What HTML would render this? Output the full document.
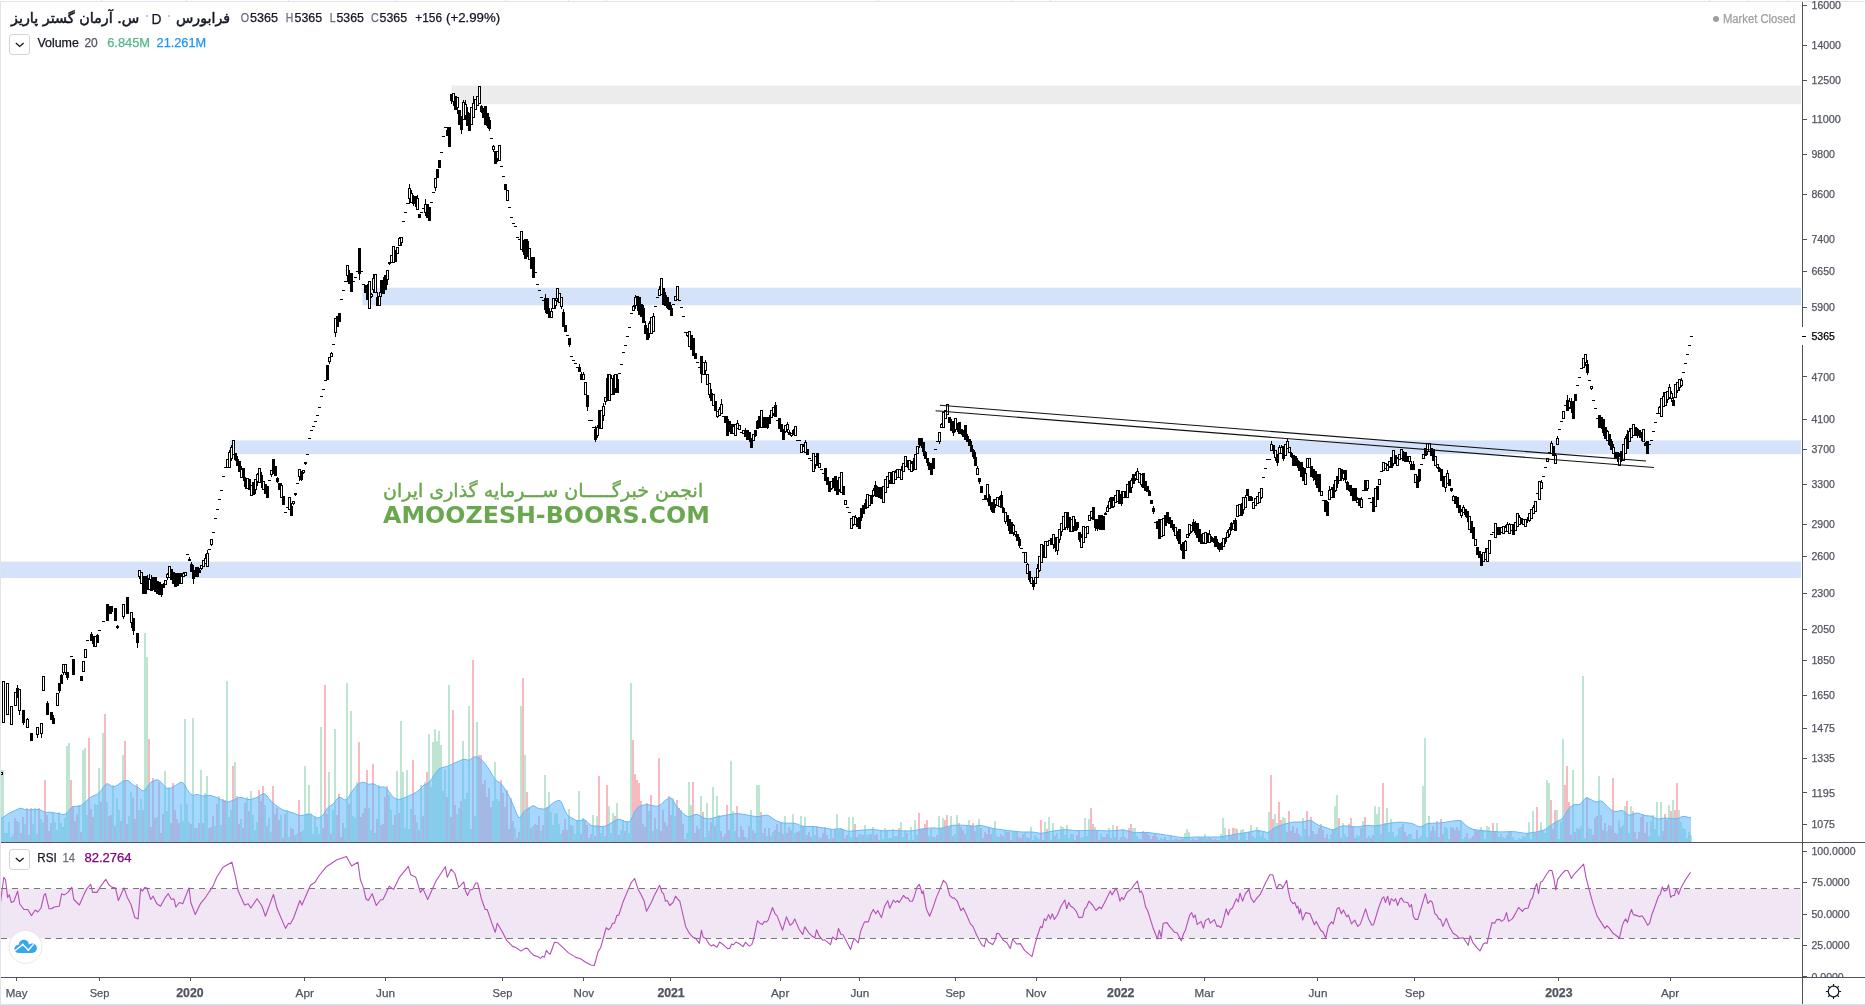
<!DOCTYPE html>
<html lang="en"><head><meta charset="utf-8"><title>Chart</title>
<style>
html,body{margin:0;padding:0;background:#fff;}
body{width:1865px;height:1005px;position:relative;overflow:hidden;font-family:"Liberation Sans","DejaVu Sans",sans-serif;color:#131722;}
.t{position:absolute;white-space:nowrap;line-height:1;will-change:transform;}
.box{position:absolute;width:19px;height:19px;border:1px solid #d1d4dc;border-radius:3px;background:#fff;box-sizing:content-box;}
.box svg{position:absolute;left:5px;top:7px}
.g{color:#6a6d78}
</style></head><body>
<svg width="1865" height="1005" viewBox="0 0 1865 1005" style="position:absolute;left:0;top:0;will-change:transform"><g shape-rendering="crispEdges"></g><g><rect x="451.5" y="85.6" width="1349.5" height="18.6" fill="#ececec"/><rect x="362.4" y="287.7" width="1438.6" height="17.6" fill="#d4e3f9"/><rect x="229.5" y="440.4" width="1571.5" height="13.8" fill="#d4e3f9"/><rect x="1" y="561.6" width="1800" height="16.4" fill="#d4e3f9"/><rect x="1" y="888.6" width="1800" height="49.8" fill="#f1e6f4"/></g><g shape-rendering="crispEdges"><path d="M0 770h2v72h-2zM2 770h2v72h-2zM4 833h2v9h-2zM6 833h2v9h-2zM8 822h2v20h-2zM10 837h2v5h-2zM12 834h2v8h-2zM18 822h2v20h-2zM24 824h2v18h-2zM28 835h2v7h-2zM32 824h2v18h-2zM34 808h2v34h-2zM36 834h2v8h-2zM40 819h2v23h-2zM42 822h2v20h-2zM52 813h2v29h-2zM54 822h2v20h-2zM56 830h2v12h-2zM58 812h2v30h-2zM60 823h2v19h-2zM62 827h2v15h-2zM64 818h2v24h-2zM66 746h2v96h-2zM68 743h2v99h-2zM78 805h2v37h-2zM82 750h2v92h-2zM84 748h2v94h-2zM86 815h2v27h-2zM94 804h2v38h-2zM96 805h2v37h-2zM98 768h2v74h-2zM102 733h2v109h-2zM106 802h2v40h-2zM112 785h2v57h-2zM116 798h2v44h-2zM118 810h2v32h-2zM122 755h2v87h-2zM128 816h2v26h-2zM130 792h2v50h-2zM138 810h2v32h-2zM140 799h2v43h-2zM144 633h2v209h-2zM146 657h2v185h-2zM156 817h2v25h-2zM164 771h2v71h-2zM166 811h2v31h-2zM168 787h2v55h-2zM180 804h2v38h-2zM182 821h2v21h-2zM184 719h2v123h-2zM186 804h2v38h-2zM188 822h2v20h-2zM192 718h2v124h-2zM196 828h2v14h-2zM200 770h2v72h-2zM204 793h2v49h-2zM206 776h2v66h-2zM214 826h2v16h-2zM218 796h2v46h-2zM220 825h2v17h-2zM226 681h2v161h-2zM228 817h2v25h-2zM230 810h2v32h-2zM234 762h2v80h-2zM240 819h2v23h-2zM246 797h2v45h-2zM250 791h2v51h-2zM252 815h2v27h-2zM254 830h2v12h-2zM256 822h2v20h-2zM264 805h2v37h-2zM268 818h2v24h-2zM270 832h2v10h-2zM280 815h2v27h-2zM286 810h2v32h-2zM288 837h2v5h-2zM296 834h2v8h-2zM302 830h2v12h-2zM304 766h2v76h-2zM306 813h2v29h-2zM308 785h2v57h-2zM310 813h2v29h-2zM312 834h2v8h-2zM314 816h2v26h-2zM316 827h2v15h-2zM318 834h2v8h-2zM320 727h2v115h-2zM328 772h2v70h-2zM332 810h2v32h-2zM334 729h2v113h-2zM344 828h2v14h-2zM346 683h2v159h-2zM350 711h2v131h-2zM352 816h2v26h-2zM354 818h2v24h-2zM356 782h2v60h-2zM368 808h2v34h-2zM370 830h2v12h-2zM374 833h2v9h-2zM378 785h2v57h-2zM388 795h2v47h-2zM390 810h2v32h-2zM392 825h2v17h-2zM396 771h2v71h-2zM400 721h2v121h-2zM402 772h2v70h-2zM404 828h2v14h-2zM406 770h2v72h-2zM408 829h2v13h-2zM410 809h2v33h-2zM416 822h2v20h-2zM420 785h2v57h-2zM424 782h2v60h-2zM428 734h2v108h-2zM430 787h2v55h-2zM432 742h2v100h-2zM434 729h2v113h-2zM436 741h2v101h-2zM438 731h2v111h-2zM440 745h2v97h-2zM442 791h2v51h-2zM444 770h2v72h-2zM448 685h2v157h-2zM456 814h2v28h-2zM458 808h2v34h-2zM462 741h2v101h-2zM464 799h2v43h-2zM466 793h2v49h-2zM468 706h2v136h-2zM470 829h2v13h-2zM474 816h2v26h-2zM476 722h2v120h-2zM492 801h2v41h-2zM494 762h2v80h-2zM496 799h2v43h-2zM498 801h2v41h-2zM514 828h2v14h-2zM520 706h2v136h-2zM524 755h2v87h-2zM528 807h2v35h-2zM532 826h2v16h-2zM540 831h2v11h-2zM544 775h2v67h-2zM548 792h2v50h-2zM550 812h2v30h-2zM552 825h2v17h-2zM554 814h2v28h-2zM556 813h2v29h-2zM558 824h2v18h-2zM560 834h2v8h-2zM568 809h2v33h-2zM572 826h2v16h-2zM574 834h2v8h-2zM576 820h2v22h-2zM578 791h2v51h-2zM582 818h2v24h-2zM588 838h2v4h-2zM592 815h2v27h-2zM596 816h2v26h-2zM600 833h2v9h-2zM602 826h2v16h-2zM604 836h2v6h-2zM608 806h2v36h-2zM610 833h2v9h-2zM612 813h2v29h-2zM616 803h2v39h-2zM620 830h2v12h-2zM622 820h2v22h-2zM626 822h2v20h-2zM628 833h2v9h-2zM630 683h2v159h-2zM648 811h2v31h-2zM652 831h2v11h-2zM656 829h2v13h-2zM672 798h2v44h-2zM674 816h2v26h-2zM686 833h2v9h-2zM688 782h2v60h-2zM690 805h2v37h-2zM700 796h2v46h-2zM704 837h2v5h-2zM706 803h2v39h-2zM708 831h2v11h-2zM712 787h2v55h-2zM716 796h2v46h-2zM718 815h2v27h-2zM722 837h2v5h-2zM730 761h2v81h-2zM732 811h2v31h-2zM734 831h2v11h-2zM738 837h2v5h-2zM746 838h2v4h-2zM750 810h2v32h-2zM756 785h2v57h-2zM758 785h2v57h-2zM762 833h2v9h-2zM766 836h2v6h-2zM770 836h2v6h-2zM772 832h2v10h-2zM778 832h2v10h-2zM784 816h2v26h-2zM792 814h2v28h-2zM794 833h2v9h-2zM800 816h2v26h-2zM804 817h2v25h-2zM812 826h2v16h-2zM814 835h2v7h-2zM818 837h2v5h-2zM830 829h2v13h-2zM836 814h2v28h-2zM838 830h2v12h-2zM840 828h2v14h-2zM848 817h2v25h-2zM850 837h2v5h-2zM852 817h2v25h-2zM858 834h2v8h-2zM860 834h2v8h-2zM864 825h2v17h-2zM866 835h2v7h-2zM868 834h2v8h-2zM872 827h2v15h-2zM880 830h2v12h-2zM882 839h2v3h-2zM884 828h2v14h-2zM886 831h2v11h-2zM888 838h2v4h-2zM892 829h2v13h-2zM894 836h2v6h-2zM896 836h2v6h-2zM900 822h2v20h-2zM902 837h2v5h-2zM904 830h2v12h-2zM908 840h2v2h-2zM910 827h2v15h-2zM914 820h2v22h-2zM916 835h2v7h-2zM928 836h2v6h-2zM930 829h2v13h-2zM934 837h2v5h-2zM938 816h2v26h-2zM942 818h2v24h-2zM950 816h2v26h-2zM954 834h2v8h-2zM956 815h2v27h-2zM966 826h2v16h-2zM968 820h2v22h-2zM976 825h2v17h-2zM978 819h2v23h-2zM992 828h2v14h-2zM994 821h2v21h-2zM996 836h2v6h-2zM998 837h2v5h-2zM1004 830h2v12h-2zM1012 831h2v11h-2zM1014 831h2v11h-2zM1024 832h2v10h-2zM1030 827h2v15h-2zM1034 835h2v7h-2zM1036 837h2v5h-2zM1038 839h2v3h-2zM1044 822h2v20h-2zM1048 817h2v25h-2zM1050 840h2v2h-2zM1052 823h2v19h-2zM1056 833h2v9h-2zM1060 826h2v16h-2zM1062 827h2v15h-2zM1064 835h2v7h-2zM1066 825h2v17h-2zM1068 838h2v4h-2zM1070 834h2v8h-2zM1072 834h2v8h-2zM1080 838h2v4h-2zM1082 837h2v5h-2zM1084 818h2v24h-2zM1086 836h2v6h-2zM1088 819h2v23h-2zM1094 827h2v15h-2zM1100 834h2v8h-2zM1108 828h2v14h-2zM1112 825h2v17h-2zM1114 837h2v5h-2zM1118 840h2v2h-2zM1122 829h2v13h-2zM1132 828h2v14h-2zM1134 828h2v14h-2zM1136 836h2v6h-2zM1140 839h2v3h-2zM1160 838h2v4h-2zM1162 839h2v3h-2zM1170 836h2v6h-2zM1174 839h2v3h-2zM1184 833h2v9h-2zM1186 829h2v13h-2zM1188 832h2v10h-2zM1190 840h2v2h-2zM1202 838h2v4h-2zM1204 834h2v8h-2zM1208 837h2v5h-2zM1220 834h2v8h-2zM1222 818h2v24h-2zM1224 828h2v14h-2zM1226 840h2v2h-2zM1230 835h2v7h-2zM1234 828h2v14h-2zM1238 840h2v2h-2zM1240 830h2v12h-2zM1242 829h2v13h-2zM1244 833h2v9h-2zM1250 825h2v17h-2zM1252 836h2v6h-2zM1254 838h2v4h-2zM1256 827h2v15h-2zM1258 830h2v12h-2zM1260 836h2v6h-2zM1262 831h2v11h-2zM1264 838h2v4h-2zM1266 840h2v2h-2zM1268 812h2v30h-2zM1274 814h2v28h-2zM1276 823h2v19h-2zM1282 817h2v25h-2zM1284 818h2v24h-2zM1300 836h2v6h-2zM1302 818h2v24h-2zM1304 829h2v13h-2zM1308 836h2v6h-2zM1314 834h2v8h-2zM1328 839h2v3h-2zM1330 834h2v8h-2zM1334 806h2v36h-2zM1336 795h2v47h-2zM1342 823h2v19h-2zM1344 834h2v8h-2zM1356 835h2v7h-2zM1358 836h2v6h-2zM1362 821h2v21h-2zM1368 836h2v6h-2zM1374 806h2v36h-2zM1376 814h2v28h-2zM1378 807h2v35h-2zM1380 834h2v8h-2zM1384 823h2v19h-2zM1386 808h2v34h-2zM1388 832h2v10h-2zM1390 819h2v23h-2zM1392 832h2v10h-2zM1394 837h2v5h-2zM1396 835h2v7h-2zM1398 828h2v14h-2zM1400 827h2v15h-2zM1408 834h2v8h-2zM1410 834h2v8h-2zM1412 839h2v3h-2zM1414 839h2v3h-2zM1418 838h2v4h-2zM1420 836h2v6h-2zM1422 786h2v56h-2zM1424 738h2v104h-2zM1426 837h2v5h-2zM1428 816h2v26h-2zM1434 831h2v11h-2zM1438 837h2v5h-2zM1444 827h2v15h-2zM1446 828h2v14h-2zM1448 839h2v3h-2zM1460 820h2v22h-2zM1462 839h2v3h-2zM1464 837h2v5h-2zM1468 839h2v3h-2zM1480 827h2v15h-2zM1482 830h2v12h-2zM1484 839h2v3h-2zM1486 826h2v16h-2zM1488 827h2v15h-2zM1490 831h2v11h-2zM1496 823h2v19h-2zM1500 834h2v8h-2zM1502 837h2v5h-2zM1504 838h2v4h-2zM1506 835h2v7h-2zM1510 831h2v11h-2zM1512 837h2v5h-2zM1514 840h2v2h-2zM1516 840h2v2h-2zM1518 838h2v4h-2zM1522 836h2v6h-2zM1524 837h2v5h-2zM1526 833h2v9h-2zM1528 822h2v20h-2zM1530 839h2v3h-2zM1532 811h2v31h-2zM1534 833h2v9h-2zM1538 831h2v11h-2zM1540 822h2v20h-2zM1542 831h2v11h-2zM1544 833h2v9h-2zM1546 780h2v62h-2zM1548 783h2v59h-2zM1556 810h2v32h-2zM1558 839h2v3h-2zM1560 822h2v20h-2zM1562 739h2v103h-2zM1572 770h2v72h-2zM1576 828h2v14h-2zM1580 826h2v16h-2zM1582 676h2v166h-2zM1584 838h2v4h-2zM1588 828h2v14h-2zM1590 829h2v13h-2zM1598 776h2v66h-2zM1606 831h2v11h-2zM1618 820h2v22h-2zM1622 825h2v17h-2zM1624 806h2v36h-2zM1628 833h2v9h-2zM1630 806h2v36h-2zM1648 836h2v6h-2zM1650 821h2v21h-2zM1652 815h2v27h-2zM1654 829h2v13h-2zM1656 802h2v40h-2zM1658 836h2v6h-2zM1660 802h2v40h-2zM1668 805h2v37h-2zM1672 800h2v42h-2zM1678 810h2v32h-2zM1680 822h2v20h-2zM1682 828h2v14h-2zM1684 829h2v13h-2zM1686 838h2v4h-2zM1688 832h2v10h-2zM1690 835h2v7h-2z" fill="#bde5d2"/><path d="M14 818h2v24h-2zM16 821h2v21h-2zM20 833h2v9h-2zM22 817h2v25h-2zM26 808h2v34h-2zM30 808h2v34h-2zM38 808h2v34h-2zM44 780h2v62h-2zM46 815h2v27h-2zM48 831h2v11h-2zM50 823h2v19h-2zM70 780h2v62h-2zM72 806h2v36h-2zM74 821h2v21h-2zM76 814h2v28h-2zM80 832h2v10h-2zM88 738h2v104h-2zM90 809h2v33h-2zM92 817h2v25h-2zM100 802h2v40h-2zM104 714h2v128h-2zM108 816h2v26h-2zM110 815h2v27h-2zM114 826h2v16h-2zM120 821h2v21h-2zM124 741h2v101h-2zM126 824h2v18h-2zM132 798h2v44h-2zM134 819h2v23h-2zM136 784h2v58h-2zM142 810h2v32h-2zM148 739h2v103h-2zM150 827h2v15h-2zM152 778h2v64h-2zM154 818h2v24h-2zM158 782h2v60h-2zM160 833h2v9h-2zM162 814h2v28h-2zM170 823h2v19h-2zM172 783h2v59h-2zM174 810h2v32h-2zM176 819h2v23h-2zM178 823h2v19h-2zM190 824h2v18h-2zM194 828h2v14h-2zM198 823h2v19h-2zM202 823h2v19h-2zM208 828h2v14h-2zM210 827h2v15h-2zM212 816h2v26h-2zM216 804h2v38h-2zM222 799h2v43h-2zM224 800h2v42h-2zM232 766h2v76h-2zM236 796h2v46h-2zM238 824h2v18h-2zM242 828h2v14h-2zM244 803h2v39h-2zM248 811h2v31h-2zM258 790h2v52h-2zM260 801h2v41h-2zM262 786h2v56h-2zM266 826h2v16h-2zM272 786h2v56h-2zM274 814h2v28h-2zM276 808h2v34h-2zM278 820h2v22h-2zM282 838h2v4h-2zM284 814h2v28h-2zM290 828h2v14h-2zM292 829h2v13h-2zM294 835h2v7h-2zM298 800h2v42h-2zM300 832h2v10h-2zM322 828h2v14h-2zM324 685h2v157h-2zM326 814h2v28h-2zM330 834h2v8h-2zM336 815h2v27h-2zM338 794h2v48h-2zM340 837h2v5h-2zM342 823h2v19h-2zM348 804h2v38h-2zM358 742h2v100h-2zM360 817h2v25h-2zM362 813h2v29h-2zM364 808h2v34h-2zM366 770h2v72h-2zM372 764h2v78h-2zM376 819h2v23h-2zM380 825h2v17h-2zM382 824h2v18h-2zM384 797h2v45h-2zM386 786h2v56h-2zM394 815h2v27h-2zM398 813h2v29h-2zM412 760h2v82h-2zM414 815h2v27h-2zM418 830h2v12h-2zM422 816h2v26h-2zM426 772h2v70h-2zM446 797h2v45h-2zM450 817h2v25h-2zM452 710h2v132h-2zM454 805h2v37h-2zM460 801h2v41h-2zM472 660h2v182h-2zM478 755h2v87h-2zM480 755h2v87h-2zM482 784h2v58h-2zM484 780h2v62h-2zM486 797h2v45h-2zM488 788h2v54h-2zM490 807h2v35h-2zM500 780h2v62h-2zM502 793h2v49h-2zM504 807h2v35h-2zM506 790h2v52h-2zM508 829h2v13h-2zM510 798h2v44h-2zM512 821h2v21h-2zM516 838h2v4h-2zM518 832h2v10h-2zM522 678h2v164h-2zM526 792h2v50h-2zM530 828h2v14h-2zM534 824h2v18h-2zM536 825h2v17h-2zM538 816h2v26h-2zM542 825h2v17h-2zM546 807h2v35h-2zM562 830h2v12h-2zM564 819h2v23h-2zM566 830h2v12h-2zM570 825h2v17h-2zM580 834h2v8h-2zM584 821h2v21h-2zM586 825h2v17h-2zM590 834h2v8h-2zM594 836h2v6h-2zM598 776h2v66h-2zM606 785h2v57h-2zM614 816h2v26h-2zM618 835h2v7h-2zM624 831h2v11h-2zM632 740h2v102h-2zM634 774h2v68h-2zM636 780h2v62h-2zM638 783h2v59h-2zM640 801h2v41h-2zM642 824h2v18h-2zM644 827h2v15h-2zM646 803h2v39h-2zM650 795h2v47h-2zM654 818h2v24h-2zM658 758h2v84h-2zM660 831h2v11h-2zM662 810h2v32h-2zM664 822h2v20h-2zM666 826h2v16h-2zM668 796h2v46h-2zM670 815h2v27h-2zM676 800h2v42h-2zM678 808h2v34h-2zM680 810h2v32h-2zM682 824h2v18h-2zM684 839h2v3h-2zM692 782h2v60h-2zM694 833h2v9h-2zM696 826h2v16h-2zM698 829h2v13h-2zM702 812h2v30h-2zM710 822h2v20h-2zM714 826h2v16h-2zM720 831h2v11h-2zM724 834h2v8h-2zM726 805h2v37h-2zM728 830h2v12h-2zM736 806h2v36h-2zM740 826h2v16h-2zM742 830h2v12h-2zM744 837h2v5h-2zM748 826h2v16h-2zM752 830h2v12h-2zM754 833h2v9h-2zM760 812h2v30h-2zM764 828h2v14h-2zM768 828h2v14h-2zM774 830h2v12h-2zM776 824h2v18h-2zM780 822h2v20h-2zM782 834h2v8h-2zM786 833h2v9h-2zM788 827h2v15h-2zM790 830h2v12h-2zM796 832h2v10h-2zM798 831h2v11h-2zM802 826h2v16h-2zM806 835h2v7h-2zM808 832h2v10h-2zM810 837h2v5h-2zM816 826h2v16h-2zM820 838h2v4h-2zM822 833h2v9h-2zM824 827h2v15h-2zM826 835h2v7h-2zM828 839h2v3h-2zM832 838h2v4h-2zM834 829h2v13h-2zM842 829h2v13h-2zM844 838h2v4h-2zM846 835h2v7h-2zM854 824h2v18h-2zM856 837h2v5h-2zM862 835h2v7h-2zM870 834h2v8h-2zM874 835h2v7h-2zM876 834h2v8h-2zM878 840h2v2h-2zM890 838h2v4h-2zM898 828h2v14h-2zM906 833h2v9h-2zM912 840h2v2h-2zM918 813h2v29h-2zM920 829h2v13h-2zM922 829h2v13h-2zM924 824h2v18h-2zM926 820h2v22h-2zM932 837h2v5h-2zM936 835h2v7h-2zM940 828h2v14h-2zM944 820h2v22h-2zM946 815h2v27h-2zM948 827h2v15h-2zM952 836h2v6h-2zM958 823h2v19h-2zM960 827h2v15h-2zM962 830h2v12h-2zM964 834h2v8h-2zM970 825h2v17h-2zM972 823h2v19h-2zM974 831h2v11h-2zM980 828h2v14h-2zM982 838h2v4h-2zM984 832h2v10h-2zM986 834h2v8h-2zM988 827h2v15h-2zM990 834h2v8h-2zM1000 834h2v8h-2zM1002 836h2v6h-2zM1006 832h2v10h-2zM1008 832h2v10h-2zM1010 840h2v2h-2zM1016 831h2v11h-2zM1018 837h2v5h-2zM1020 838h2v4h-2zM1022 834h2v8h-2zM1026 837h2v5h-2zM1028 838h2v4h-2zM1032 840h2v2h-2zM1040 820h2v22h-2zM1042 840h2v2h-2zM1046 829h2v13h-2zM1054 836h2v6h-2zM1058 839h2v3h-2zM1074 840h2v2h-2zM1076 835h2v7h-2zM1078 830h2v12h-2zM1090 808h2v34h-2zM1092 824h2v18h-2zM1096 830h2v12h-2zM1098 840h2v2h-2zM1102 837h2v5h-2zM1104 837h2v5h-2zM1106 834h2v8h-2zM1110 838h2v4h-2zM1116 826h2v16h-2zM1120 837h2v5h-2zM1124 837h2v5h-2zM1126 839h2v3h-2zM1128 828h2v14h-2zM1130 824h2v18h-2zM1138 839h2v3h-2zM1142 831h2v11h-2zM1144 832h2v10h-2zM1146 832h2v10h-2zM1148 835h2v7h-2zM1150 839h2v3h-2zM1152 836h2v6h-2zM1154 833h2v9h-2zM1156 837h2v5h-2zM1158 840h2v2h-2zM1164 837h2v5h-2zM1166 840h2v2h-2zM1168 840h2v2h-2zM1172 840h2v2h-2zM1176 839h2v3h-2zM1178 840h2v2h-2zM1180 839h2v3h-2zM1182 839h2v3h-2zM1192 839h2v3h-2zM1194 840h2v2h-2zM1196 840h2v2h-2zM1198 838h2v4h-2zM1200 838h2v4h-2zM1206 839h2v3h-2zM1210 838h2v4h-2zM1212 840h2v2h-2zM1214 839h2v3h-2zM1216 840h2v2h-2zM1218 840h2v2h-2zM1228 829h2v13h-2zM1232 828h2v14h-2zM1236 829h2v13h-2zM1246 840h2v2h-2zM1248 832h2v10h-2zM1270 775h2v67h-2zM1272 819h2v23h-2zM1278 802h2v40h-2zM1280 820h2v22h-2zM1286 832h2v10h-2zM1288 811h2v31h-2zM1290 831h2v11h-2zM1292 826h2v16h-2zM1294 833h2v9h-2zM1296 828h2v14h-2zM1298 834h2v8h-2zM1306 811h2v31h-2zM1310 817h2v25h-2zM1312 831h2v11h-2zM1316 834h2v8h-2zM1318 828h2v14h-2zM1320 824h2v18h-2zM1322 830h2v12h-2zM1324 838h2v4h-2zM1326 834h2v8h-2zM1332 830h2v12h-2zM1338 818h2v24h-2zM1340 838h2v4h-2zM1346 837h2v5h-2zM1348 824h2v18h-2zM1350 818h2v24h-2zM1352 827h2v15h-2zM1354 838h2v4h-2zM1360 828h2v14h-2zM1364 817h2v25h-2zM1366 838h2v4h-2zM1370 838h2v4h-2zM1372 835h2v7h-2zM1382 783h2v59h-2zM1402 824h2v18h-2zM1404 832h2v10h-2zM1406 836h2v6h-2zM1416 830h2v12h-2zM1430 831h2v11h-2zM1432 826h2v16h-2zM1436 821h2v21h-2zM1440 819h2v23h-2zM1442 834h2v8h-2zM1450 827h2v15h-2zM1452 828h2v14h-2zM1454 830h2v12h-2zM1456 827h2v15h-2zM1458 830h2v12h-2zM1466 833h2v9h-2zM1470 838h2v4h-2zM1472 836h2v6h-2zM1474 829h2v13h-2zM1476 831h2v11h-2zM1478 830h2v12h-2zM1492 823h2v19h-2zM1494 831h2v11h-2zM1498 837h2v5h-2zM1508 831h2v11h-2zM1520 839h2v3h-2zM1536 807h2v35h-2zM1550 800h2v42h-2zM1552 829h2v13h-2zM1554 810h2v32h-2zM1564 785h2v57h-2zM1566 766h2v76h-2zM1568 802h2v40h-2zM1570 835h2v7h-2zM1574 832h2v10h-2zM1578 829h2v13h-2zM1586 797h2v45h-2zM1592 835h2v7h-2zM1594 818h2v24h-2zM1596 816h2v26h-2zM1600 815h2v27h-2zM1602 830h2v12h-2zM1604 823h2v19h-2zM1608 825h2v17h-2zM1610 826h2v16h-2zM1612 778h2v64h-2zM1614 833h2v9h-2zM1616 834h2v8h-2zM1620 827h2v15h-2zM1626 801h2v41h-2zM1632 811h2v31h-2zM1634 832h2v10h-2zM1636 839h2v3h-2zM1638 832h2v10h-2zM1640 817h2v25h-2zM1642 814h2v28h-2zM1644 833h2v9h-2zM1646 822h2v20h-2zM1662 831h2v11h-2zM1664 814h2v28h-2zM1666 820h2v22h-2zM1670 811h2v31h-2zM1674 810h2v32h-2zM1676 783h2v59h-2z" fill="#f9b9bf"/></g><path d="M0 842L0.0 818.9L1.0 818.3L3.0 817.3L5.0 816.0L7.0 814.6L9.0 813.3L11.0 812.2L13.0 811.3L15.0 810.4L17.0 809.5L19.0 808.7L21.0 808.2L23.0 808.8L25.0 809.6L27.0 809.9L29.0 809.8L31.0 809.8L33.0 809.7L35.0 809.6L37.0 809.5L39.0 809.6L41.0 810.2L43.0 811.3L45.0 812.2L47.0 812.4L49.0 812.2L51.0 812.3L53.0 812.6L55.0 813.0L57.0 813.4L59.0 813.7L61.0 814.1L63.0 814.5L65.0 814.3L67.0 812.8L69.0 810.3L71.0 808.0L73.0 806.6L75.0 806.3L77.0 806.3L79.0 806.2L81.0 805.5L83.0 804.0L85.0 802.2L87.0 800.3L89.0 798.4L91.0 797.0L93.0 796.0L95.0 795.3L97.0 794.5L99.0 792.9L101.0 790.5L103.0 787.8L105.0 785.1L107.0 783.6L109.0 784.4L111.0 786.1L113.0 786.8L115.0 786.4L117.0 785.3L119.0 784.0L121.0 782.5L123.0 781.2L125.0 780.5L127.0 780.3L129.0 781.1L131.0 783.0L133.0 784.9L135.0 786.0L137.0 786.8L139.0 788.1L141.0 789.8L143.0 791.0L145.0 789.9L147.0 787.1L149.0 784.3L151.0 782.2L153.0 781.0L155.0 780.1L157.0 779.7L159.0 780.6L161.0 782.3L163.0 784.3L165.0 786.6L167.0 788.5L169.0 788.9L171.0 788.0L173.0 786.9L175.0 785.7L177.0 784.5L179.0 783.3L181.0 782.2L183.0 782.7L185.0 785.6L187.0 789.3L189.0 792.2L191.0 794.4L193.0 795.4L195.0 794.9L197.0 794.4L199.0 794.9L201.0 795.7L203.0 796.0L205.0 795.7L207.0 795.4L209.0 795.3L211.0 795.6L213.0 796.3L215.0 796.9L217.0 797.7L219.0 798.7L221.0 799.7L223.0 800.7L225.0 801.6L227.0 802.1L229.0 801.8L231.0 801.0L233.0 800.3L235.0 799.4L237.0 798.3L239.0 797.5L241.0 797.4L243.0 797.9L245.0 798.6L247.0 799.2L249.0 799.6L251.0 799.4L253.0 798.8L255.0 798.2L257.0 797.3L259.0 796.2L261.0 794.9L263.0 793.8L265.0 793.9L267.0 796.0L269.0 798.8L271.0 801.0L273.0 802.8L275.0 804.5L277.0 806.1L279.0 807.6L281.0 809.0L283.0 810.0L285.0 810.7L287.0 811.2L289.0 811.7L291.0 812.3L293.0 813.0L295.0 813.8L297.0 814.6L299.0 815.3L301.0 815.5L303.0 815.3L305.0 814.9L307.0 814.5L309.0 814.3L311.0 814.8L313.0 815.9L315.0 817.2L317.0 818.1L319.0 817.8L321.0 816.7L323.0 815.0L325.0 812.1L327.0 808.7L329.0 806.6L331.0 805.5L333.0 804.1L335.0 801.8L337.0 799.1L339.0 797.3L341.0 797.6L343.0 799.0L345.0 800.0L347.0 799.3L349.0 796.4L351.0 793.0L353.0 790.1L355.0 787.5L357.0 785.2L359.0 783.6L361.0 782.7L363.0 782.2L365.0 782.7L367.0 783.8L369.0 784.3L371.0 784.0L373.0 783.7L375.0 784.4L377.0 785.9L379.0 787.0L381.0 787.1L383.0 786.9L385.0 787.3L387.0 788.9L389.0 791.6L391.0 794.5L393.0 796.9L395.0 798.4L397.0 799.2L399.0 799.4L401.0 799.0L403.0 798.2L405.0 797.5L407.0 796.8L409.0 795.9L411.0 794.9L413.0 793.9L415.0 792.9L417.0 791.7L419.0 790.1L421.0 787.9L423.0 785.8L425.0 784.6L427.0 783.8L429.0 782.4L431.0 779.8L433.0 776.8L435.0 773.8L437.0 770.9L439.0 768.8L441.0 767.9L443.0 767.4L445.0 766.9L447.0 766.4L449.0 765.7L451.0 764.8L453.0 763.8L455.0 762.8L457.0 762.0L459.0 761.2L461.0 760.2L463.0 759.3L465.0 759.3L467.0 760.0L469.0 760.2L471.0 759.0L473.0 757.5L475.0 756.8L477.0 756.9L479.0 757.7L481.0 759.3L483.0 761.3L485.0 763.5L487.0 766.2L489.0 769.3L491.0 772.6L493.0 776.3L495.0 779.4L497.0 781.1L499.0 782.1L501.0 783.7L503.0 786.2L505.0 789.0L507.0 792.2L509.0 796.0L511.0 800.1L513.0 804.7L515.0 809.6L517.0 814.5L519.0 817.8L521.0 816.7L523.0 812.8L525.0 810.4L527.0 809.4L529.0 808.3L531.0 806.8L533.0 805.7L535.0 806.3L537.0 807.8L539.0 808.6L541.0 808.8L543.0 809.1L545.0 809.0L547.0 808.0L549.0 806.4L551.0 804.6L553.0 803.0L555.0 801.8L557.0 801.0L559.0 800.2L561.0 801.4L563.0 805.7L565.0 810.9L567.0 814.4L569.0 816.3L571.0 817.6L573.0 818.8L575.0 819.8L577.0 820.7L579.0 820.9L581.0 820.4L583.0 819.7L585.0 819.9L587.0 821.5L589.0 823.7L591.0 825.4L593.0 826.0L595.0 826.0L597.0 826.1L599.0 826.3L601.0 826.6L603.0 826.6L605.0 826.1L607.0 825.3L609.0 824.2L611.0 823.1L613.0 821.9L615.0 820.7L617.0 819.6L619.0 819.1L621.0 819.8L623.0 820.8L625.0 821.5L627.0 821.7L629.0 821.8L631.0 819.9L633.0 815.3L635.0 810.8L637.0 808.3L639.0 806.6L641.0 805.7L643.0 805.2L645.0 804.8L647.0 804.6L649.0 804.9L651.0 805.3L653.0 805.8L655.0 806.1L657.0 806.3L659.0 805.8L661.0 804.4L663.0 802.4L665.0 800.6L667.0 799.2L669.0 798.0L671.0 798.0L673.0 800.4L675.0 803.8L677.0 806.7L679.0 809.2L681.0 811.5L683.0 813.4L685.0 815.0L687.0 816.2L689.0 816.6L691.0 816.1L693.0 815.3L695.0 814.6L697.0 814.4L699.0 815.2L701.0 816.4L703.0 817.5L705.0 818.3L707.0 818.9L709.0 819.0L711.0 818.6L713.0 818.0L715.0 817.5L717.0 816.9L719.0 816.5L721.0 816.1L723.0 815.8L725.0 815.4L727.0 815.0L729.0 814.7L731.0 814.4L733.0 814.1L735.0 813.7L737.0 813.6L739.0 813.7L741.0 814.0L743.0 814.3L745.0 814.6L747.0 815.0L749.0 815.3L751.0 815.7L753.0 816.1L755.0 816.4L757.0 816.7L759.0 816.5L761.0 816.1L763.0 815.6L765.0 815.2L767.0 815.1L769.0 815.8L771.0 817.2L773.0 818.7L775.0 820.0L777.0 821.0L779.0 821.8L781.0 822.5L783.0 823.0L785.0 823.2L787.0 823.2L789.0 823.2L791.0 823.2L793.0 823.2L795.0 823.4L797.0 824.0L799.0 824.9L801.0 825.7L803.0 826.3L805.0 826.5L807.0 826.5L809.0 826.5L811.0 826.5L813.0 826.6L815.0 826.8L817.0 827.0L819.0 827.3L821.0 827.6L823.0 827.8L825.0 828.2L827.0 828.5L829.0 828.8L831.0 829.2L833.0 829.3L835.0 829.2L837.0 829.0L839.0 828.8L841.0 828.9L843.0 829.5L845.0 830.3L847.0 831.0L849.0 831.3L851.0 831.1L853.0 830.9L855.0 830.7L857.0 830.5L859.0 830.3L861.0 830.2L863.0 830.0L865.0 829.9L867.0 829.8L869.0 829.7L871.0 829.6L873.0 829.6L875.0 829.7L877.0 830.0L879.0 830.2L881.0 830.5L883.0 830.7L885.0 830.7L887.0 830.6L889.0 830.5L891.0 830.4L893.0 830.4L895.0 830.4L897.0 830.5L899.0 830.7L901.0 830.8L903.0 830.9L905.0 831.0L907.0 830.9L909.0 830.9L911.0 830.9L913.0 830.7L915.0 830.4L917.0 830.0L919.0 829.5L921.0 829.1L923.0 828.8L925.0 828.6L927.0 828.4L929.0 828.2L931.0 828.0L933.0 827.9L935.0 828.0L937.0 828.2L939.0 828.3L941.0 828.2L943.0 827.8L945.0 827.2L947.0 826.7L949.0 826.2L951.0 825.7L953.0 825.3L955.0 825.2L957.0 825.2L959.0 825.2L961.0 825.2L963.0 825.2L965.0 825.3L967.0 825.5L969.0 825.8L971.0 826.2L973.0 826.3L975.0 826.1L977.0 825.8L979.0 825.5L981.0 825.5L983.0 825.9L985.0 826.4L987.0 826.9L989.0 827.4L991.0 828.0L993.0 828.4L995.0 828.8L997.0 829.1L999.0 829.4L1001.0 829.6L1003.0 829.9L1005.0 830.2L1007.0 830.4L1009.0 830.7L1011.0 830.9L1013.0 831.1L1015.0 831.3L1017.0 831.6L1019.0 831.8L1021.0 831.9L1023.0 832.0L1025.0 832.0L1027.0 832.0L1029.0 832.0L1031.0 832.0L1033.0 832.1L1035.0 832.3L1037.0 832.7L1039.0 833.1L1041.0 833.3L1043.0 833.1L1045.0 832.7L1047.0 832.3L1049.0 831.9L1051.0 831.5L1053.0 831.1L1055.0 830.8L1057.0 830.6L1059.0 830.4L1061.0 830.1L1063.0 829.9L1065.0 829.7L1067.0 829.7L1069.0 829.9L1071.0 830.1L1073.0 830.4L1075.0 830.6L1077.0 830.7L1079.0 830.7L1081.0 830.6L1083.0 830.6L1085.0 830.5L1087.0 830.4L1089.0 830.4L1091.0 830.3L1093.0 830.4L1095.0 830.4L1097.0 830.5L1099.0 830.6L1101.0 830.7L1103.0 830.8L1105.0 830.8L1107.0 830.9L1109.0 830.9L1111.0 830.8L1113.0 830.7L1115.0 830.5L1117.0 830.4L1119.0 830.2L1121.0 830.0L1123.0 830.0L1125.0 830.2L1127.0 830.7L1129.0 831.3L1131.0 831.9L1133.0 832.4L1135.0 832.7L1137.0 832.7L1139.0 832.6L1141.0 832.5L1143.0 832.5L1145.0 832.4L1147.0 832.4L1149.0 832.6L1151.0 832.9L1153.0 833.1L1155.0 833.4L1157.0 833.7L1159.0 834.0L1161.0 834.3L1163.0 834.6L1165.0 834.9L1167.0 835.2L1169.0 835.5L1171.0 835.8L1173.0 836.2L1175.0 836.5L1177.0 836.9L1179.0 837.3L1181.0 837.6L1183.0 837.7L1185.0 837.6L1187.0 837.5L1189.0 837.4L1191.0 837.3L1193.0 837.2L1195.0 837.1L1197.0 837.0L1199.0 837.0L1201.0 837.0L1203.0 837.0L1205.0 837.0L1207.0 837.0L1209.0 837.0L1211.0 837.0L1213.0 837.0L1215.0 837.0L1217.0 837.0L1219.0 837.0L1221.0 836.8L1223.0 836.5L1225.0 836.1L1227.0 835.8L1229.0 835.4L1231.0 835.1L1233.0 834.7L1235.0 834.4L1237.0 834.1L1239.0 833.8L1241.0 833.4L1243.0 833.1L1245.0 832.8L1247.0 832.4L1249.0 832.0L1251.0 831.6L1253.0 831.2L1255.0 830.8L1257.0 830.6L1259.0 830.7L1261.0 831.0L1263.0 831.5L1265.0 831.9L1267.0 832.4L1269.0 832.1L1271.0 830.6L1273.0 828.8L1275.0 827.6L1277.0 826.8L1279.0 826.0L1281.0 825.3L1283.0 824.5L1285.0 824.0L1287.0 823.5L1289.0 823.0L1291.0 822.5L1293.0 822.1L1295.0 822.0L1297.0 822.0L1299.0 822.0L1301.0 822.0L1303.0 821.8L1305.0 821.3L1307.0 820.7L1309.0 820.3L1311.0 820.6L1313.0 821.7L1315.0 823.1L1317.0 824.3L1319.0 825.4L1321.0 826.1L1323.0 826.8L1325.0 827.4L1327.0 828.1L1329.0 828.8L1331.0 829.5L1333.0 829.8L1335.0 829.3L1337.0 828.2L1339.0 827.1L1341.0 826.3L1343.0 826.0L1345.0 826.0L1347.0 826.0L1349.0 826.1L1351.0 826.3L1353.0 826.5L1355.0 826.7L1357.0 826.8L1359.0 826.8L1361.0 826.4L1363.0 825.9L1365.0 825.5L1367.0 825.4L1369.0 825.5L1371.0 825.7L1373.0 825.9L1375.0 825.8L1377.0 825.6L1379.0 825.4L1381.0 825.1L1383.0 824.7L1385.0 824.2L1387.0 823.7L1389.0 823.4L1391.0 823.1L1393.0 822.8L1395.0 822.6L1397.0 822.4L1399.0 822.2L1401.0 822.2L1403.0 822.4L1405.0 822.6L1407.0 822.8L1409.0 823.1L1411.0 823.3L1413.0 823.8L1415.0 824.8L1417.0 825.9L1419.0 826.8L1421.0 826.9L1423.0 826.0L1425.0 824.7L1427.0 823.7L1429.0 823.4L1431.0 823.3L1433.0 823.2L1435.0 823.1L1437.0 823.0L1439.0 822.9L1441.0 822.8L1443.0 822.6L1445.0 822.4L1447.0 822.0L1449.0 821.7L1451.0 821.3L1453.0 821.0L1455.0 820.8L1457.0 820.6L1459.0 820.5L1461.0 821.0L1463.0 822.6L1465.0 824.5L1467.0 826.2L1469.0 827.5L1471.0 828.4L1473.0 829.2L1475.0 829.7L1477.0 830.0L1479.0 830.2L1481.0 830.4L1483.0 830.7L1485.0 830.9L1487.0 831.1L1489.0 831.2L1491.0 831.3L1493.0 831.5L1495.0 831.6L1497.0 831.7L1499.0 831.9L1501.0 831.9L1503.0 831.9L1505.0 831.8L1507.0 831.8L1509.0 831.7L1511.0 831.6L1513.0 831.6L1515.0 831.8L1517.0 832.0L1519.0 832.4L1521.0 832.7L1523.0 833.0L1525.0 833.3L1527.0 833.3L1529.0 833.1L1531.0 832.8L1533.0 832.5L1535.0 832.2L1537.0 831.8L1539.0 831.3L1541.0 830.8L1543.0 830.3L1545.0 829.5L1547.0 828.3L1549.0 826.7L1551.0 825.2L1553.0 823.8L1555.0 822.6L1557.0 821.4L1559.0 820.4L1561.0 819.6L1563.0 818.0L1565.0 814.7L1567.0 810.9L1569.0 808.3L1571.0 806.5L1573.0 805.3L1575.0 804.6L1577.0 804.6L1579.0 804.6L1581.0 803.4L1583.0 800.8L1585.0 798.5L1587.0 797.9L1589.0 798.7L1591.0 799.6L1593.0 800.7L1595.0 801.6L1597.0 802.0L1599.0 801.4L1601.0 800.9L1603.0 801.8L1605.0 803.9L1607.0 806.2L1609.0 808.2L1611.0 809.7L1613.0 810.9L1615.0 811.5L1617.0 811.4L1619.0 811.0L1621.0 810.5L1623.0 810.7L1625.0 812.2L1627.0 814.2L1629.0 815.2L1631.0 814.9L1633.0 814.1L1635.0 813.4L1637.0 813.0L1639.0 813.4L1641.0 814.2L1643.0 815.0L1645.0 815.6L1647.0 815.8L1649.0 815.9L1651.0 816.1L1653.0 816.7L1655.0 817.9L1657.0 818.9L1659.0 819.0L1661.0 818.6L1663.0 818.3L1665.0 818.0L1667.0 818.1L1669.0 818.3L1671.0 818.4L1673.0 818.6L1675.0 818.8L1677.0 818.7L1679.0 818.0L1681.0 817.0L1683.0 816.4L1685.0 816.6L1687.0 817.0L1689.0 817.5L1691.0 817.8L1691 842z" fill="rgba(92,184,255,0.55)"/><path d="M0.0 818.9L1.0 818.3L3.0 817.3L5.0 816.0L7.0 814.6L9.0 813.3L11.0 812.2L13.0 811.3L15.0 810.4L17.0 809.5L19.0 808.7L21.0 808.2L23.0 808.8L25.0 809.6L27.0 809.9L29.0 809.8L31.0 809.8L33.0 809.7L35.0 809.6L37.0 809.5L39.0 809.6L41.0 810.2L43.0 811.3L45.0 812.2L47.0 812.4L49.0 812.2L51.0 812.3L53.0 812.6L55.0 813.0L57.0 813.4L59.0 813.7L61.0 814.1L63.0 814.5L65.0 814.3L67.0 812.8L69.0 810.3L71.0 808.0L73.0 806.6L75.0 806.3L77.0 806.3L79.0 806.2L81.0 805.5L83.0 804.0L85.0 802.2L87.0 800.3L89.0 798.4L91.0 797.0L93.0 796.0L95.0 795.3L97.0 794.5L99.0 792.9L101.0 790.5L103.0 787.8L105.0 785.1L107.0 783.6L109.0 784.4L111.0 786.1L113.0 786.8L115.0 786.4L117.0 785.3L119.0 784.0L121.0 782.5L123.0 781.2L125.0 780.5L127.0 780.3L129.0 781.1L131.0 783.0L133.0 784.9L135.0 786.0L137.0 786.8L139.0 788.1L141.0 789.8L143.0 791.0L145.0 789.9L147.0 787.1L149.0 784.3L151.0 782.2L153.0 781.0L155.0 780.1L157.0 779.7L159.0 780.6L161.0 782.3L163.0 784.3L165.0 786.6L167.0 788.5L169.0 788.9L171.0 788.0L173.0 786.9L175.0 785.7L177.0 784.5L179.0 783.3L181.0 782.2L183.0 782.7L185.0 785.6L187.0 789.3L189.0 792.2L191.0 794.4L193.0 795.4L195.0 794.9L197.0 794.4L199.0 794.9L201.0 795.7L203.0 796.0L205.0 795.7L207.0 795.4L209.0 795.3L211.0 795.6L213.0 796.3L215.0 796.9L217.0 797.7L219.0 798.7L221.0 799.7L223.0 800.7L225.0 801.6L227.0 802.1L229.0 801.8L231.0 801.0L233.0 800.3L235.0 799.4L237.0 798.3L239.0 797.5L241.0 797.4L243.0 797.9L245.0 798.6L247.0 799.2L249.0 799.6L251.0 799.4L253.0 798.8L255.0 798.2L257.0 797.3L259.0 796.2L261.0 794.9L263.0 793.8L265.0 793.9L267.0 796.0L269.0 798.8L271.0 801.0L273.0 802.8L275.0 804.5L277.0 806.1L279.0 807.6L281.0 809.0L283.0 810.0L285.0 810.7L287.0 811.2L289.0 811.7L291.0 812.3L293.0 813.0L295.0 813.8L297.0 814.6L299.0 815.3L301.0 815.5L303.0 815.3L305.0 814.9L307.0 814.5L309.0 814.3L311.0 814.8L313.0 815.9L315.0 817.2L317.0 818.1L319.0 817.8L321.0 816.7L323.0 815.0L325.0 812.1L327.0 808.7L329.0 806.6L331.0 805.5L333.0 804.1L335.0 801.8L337.0 799.1L339.0 797.3L341.0 797.6L343.0 799.0L345.0 800.0L347.0 799.3L349.0 796.4L351.0 793.0L353.0 790.1L355.0 787.5L357.0 785.2L359.0 783.6L361.0 782.7L363.0 782.2L365.0 782.7L367.0 783.8L369.0 784.3L371.0 784.0L373.0 783.7L375.0 784.4L377.0 785.9L379.0 787.0L381.0 787.1L383.0 786.9L385.0 787.3L387.0 788.9L389.0 791.6L391.0 794.5L393.0 796.9L395.0 798.4L397.0 799.2L399.0 799.4L401.0 799.0L403.0 798.2L405.0 797.5L407.0 796.8L409.0 795.9L411.0 794.9L413.0 793.9L415.0 792.9L417.0 791.7L419.0 790.1L421.0 787.9L423.0 785.8L425.0 784.6L427.0 783.8L429.0 782.4L431.0 779.8L433.0 776.8L435.0 773.8L437.0 770.9L439.0 768.8L441.0 767.9L443.0 767.4L445.0 766.9L447.0 766.4L449.0 765.7L451.0 764.8L453.0 763.8L455.0 762.8L457.0 762.0L459.0 761.2L461.0 760.2L463.0 759.3L465.0 759.3L467.0 760.0L469.0 760.2L471.0 759.0L473.0 757.5L475.0 756.8L477.0 756.9L479.0 757.7L481.0 759.3L483.0 761.3L485.0 763.5L487.0 766.2L489.0 769.3L491.0 772.6L493.0 776.3L495.0 779.4L497.0 781.1L499.0 782.1L501.0 783.7L503.0 786.2L505.0 789.0L507.0 792.2L509.0 796.0L511.0 800.1L513.0 804.7L515.0 809.6L517.0 814.5L519.0 817.8L521.0 816.7L523.0 812.8L525.0 810.4L527.0 809.4L529.0 808.3L531.0 806.8L533.0 805.7L535.0 806.3L537.0 807.8L539.0 808.6L541.0 808.8L543.0 809.1L545.0 809.0L547.0 808.0L549.0 806.4L551.0 804.6L553.0 803.0L555.0 801.8L557.0 801.0L559.0 800.2L561.0 801.4L563.0 805.7L565.0 810.9L567.0 814.4L569.0 816.3L571.0 817.6L573.0 818.8L575.0 819.8L577.0 820.7L579.0 820.9L581.0 820.4L583.0 819.7L585.0 819.9L587.0 821.5L589.0 823.7L591.0 825.4L593.0 826.0L595.0 826.0L597.0 826.1L599.0 826.3L601.0 826.6L603.0 826.6L605.0 826.1L607.0 825.3L609.0 824.2L611.0 823.1L613.0 821.9L615.0 820.7L617.0 819.6L619.0 819.1L621.0 819.8L623.0 820.8L625.0 821.5L627.0 821.7L629.0 821.8L631.0 819.9L633.0 815.3L635.0 810.8L637.0 808.3L639.0 806.6L641.0 805.7L643.0 805.2L645.0 804.8L647.0 804.6L649.0 804.9L651.0 805.3L653.0 805.8L655.0 806.1L657.0 806.3L659.0 805.8L661.0 804.4L663.0 802.4L665.0 800.6L667.0 799.2L669.0 798.0L671.0 798.0L673.0 800.4L675.0 803.8L677.0 806.7L679.0 809.2L681.0 811.5L683.0 813.4L685.0 815.0L687.0 816.2L689.0 816.6L691.0 816.1L693.0 815.3L695.0 814.6L697.0 814.4L699.0 815.2L701.0 816.4L703.0 817.5L705.0 818.3L707.0 818.9L709.0 819.0L711.0 818.6L713.0 818.0L715.0 817.5L717.0 816.9L719.0 816.5L721.0 816.1L723.0 815.8L725.0 815.4L727.0 815.0L729.0 814.7L731.0 814.4L733.0 814.1L735.0 813.7L737.0 813.6L739.0 813.7L741.0 814.0L743.0 814.3L745.0 814.6L747.0 815.0L749.0 815.3L751.0 815.7L753.0 816.1L755.0 816.4L757.0 816.7L759.0 816.5L761.0 816.1L763.0 815.6L765.0 815.2L767.0 815.1L769.0 815.8L771.0 817.2L773.0 818.7L775.0 820.0L777.0 821.0L779.0 821.8L781.0 822.5L783.0 823.0L785.0 823.2L787.0 823.2L789.0 823.2L791.0 823.2L793.0 823.2L795.0 823.4L797.0 824.0L799.0 824.9L801.0 825.7L803.0 826.3L805.0 826.5L807.0 826.5L809.0 826.5L811.0 826.5L813.0 826.6L815.0 826.8L817.0 827.0L819.0 827.3L821.0 827.6L823.0 827.8L825.0 828.2L827.0 828.5L829.0 828.8L831.0 829.2L833.0 829.3L835.0 829.2L837.0 829.0L839.0 828.8L841.0 828.9L843.0 829.5L845.0 830.3L847.0 831.0L849.0 831.3L851.0 831.1L853.0 830.9L855.0 830.7L857.0 830.5L859.0 830.3L861.0 830.2L863.0 830.0L865.0 829.9L867.0 829.8L869.0 829.7L871.0 829.6L873.0 829.6L875.0 829.7L877.0 830.0L879.0 830.2L881.0 830.5L883.0 830.7L885.0 830.7L887.0 830.6L889.0 830.5L891.0 830.4L893.0 830.4L895.0 830.4L897.0 830.5L899.0 830.7L901.0 830.8L903.0 830.9L905.0 831.0L907.0 830.9L909.0 830.9L911.0 830.9L913.0 830.7L915.0 830.4L917.0 830.0L919.0 829.5L921.0 829.1L923.0 828.8L925.0 828.6L927.0 828.4L929.0 828.2L931.0 828.0L933.0 827.9L935.0 828.0L937.0 828.2L939.0 828.3L941.0 828.2L943.0 827.8L945.0 827.2L947.0 826.7L949.0 826.2L951.0 825.7L953.0 825.3L955.0 825.2L957.0 825.2L959.0 825.2L961.0 825.2L963.0 825.2L965.0 825.3L967.0 825.5L969.0 825.8L971.0 826.2L973.0 826.3L975.0 826.1L977.0 825.8L979.0 825.5L981.0 825.5L983.0 825.9L985.0 826.4L987.0 826.9L989.0 827.4L991.0 828.0L993.0 828.4L995.0 828.8L997.0 829.1L999.0 829.4L1001.0 829.6L1003.0 829.9L1005.0 830.2L1007.0 830.4L1009.0 830.7L1011.0 830.9L1013.0 831.1L1015.0 831.3L1017.0 831.6L1019.0 831.8L1021.0 831.9L1023.0 832.0L1025.0 832.0L1027.0 832.0L1029.0 832.0L1031.0 832.0L1033.0 832.1L1035.0 832.3L1037.0 832.7L1039.0 833.1L1041.0 833.3L1043.0 833.1L1045.0 832.7L1047.0 832.3L1049.0 831.9L1051.0 831.5L1053.0 831.1L1055.0 830.8L1057.0 830.6L1059.0 830.4L1061.0 830.1L1063.0 829.9L1065.0 829.7L1067.0 829.7L1069.0 829.9L1071.0 830.1L1073.0 830.4L1075.0 830.6L1077.0 830.7L1079.0 830.7L1081.0 830.6L1083.0 830.6L1085.0 830.5L1087.0 830.4L1089.0 830.4L1091.0 830.3L1093.0 830.4L1095.0 830.4L1097.0 830.5L1099.0 830.6L1101.0 830.7L1103.0 830.8L1105.0 830.8L1107.0 830.9L1109.0 830.9L1111.0 830.8L1113.0 830.7L1115.0 830.5L1117.0 830.4L1119.0 830.2L1121.0 830.0L1123.0 830.0L1125.0 830.2L1127.0 830.7L1129.0 831.3L1131.0 831.9L1133.0 832.4L1135.0 832.7L1137.0 832.7L1139.0 832.6L1141.0 832.5L1143.0 832.5L1145.0 832.4L1147.0 832.4L1149.0 832.6L1151.0 832.9L1153.0 833.1L1155.0 833.4L1157.0 833.7L1159.0 834.0L1161.0 834.3L1163.0 834.6L1165.0 834.9L1167.0 835.2L1169.0 835.5L1171.0 835.8L1173.0 836.2L1175.0 836.5L1177.0 836.9L1179.0 837.3L1181.0 837.6L1183.0 837.7L1185.0 837.6L1187.0 837.5L1189.0 837.4L1191.0 837.3L1193.0 837.2L1195.0 837.1L1197.0 837.0L1199.0 837.0L1201.0 837.0L1203.0 837.0L1205.0 837.0L1207.0 837.0L1209.0 837.0L1211.0 837.0L1213.0 837.0L1215.0 837.0L1217.0 837.0L1219.0 837.0L1221.0 836.8L1223.0 836.5L1225.0 836.1L1227.0 835.8L1229.0 835.4L1231.0 835.1L1233.0 834.7L1235.0 834.4L1237.0 834.1L1239.0 833.8L1241.0 833.4L1243.0 833.1L1245.0 832.8L1247.0 832.4L1249.0 832.0L1251.0 831.6L1253.0 831.2L1255.0 830.8L1257.0 830.6L1259.0 830.7L1261.0 831.0L1263.0 831.5L1265.0 831.9L1267.0 832.4L1269.0 832.1L1271.0 830.6L1273.0 828.8L1275.0 827.6L1277.0 826.8L1279.0 826.0L1281.0 825.3L1283.0 824.5L1285.0 824.0L1287.0 823.5L1289.0 823.0L1291.0 822.5L1293.0 822.1L1295.0 822.0L1297.0 822.0L1299.0 822.0L1301.0 822.0L1303.0 821.8L1305.0 821.3L1307.0 820.7L1309.0 820.3L1311.0 820.6L1313.0 821.7L1315.0 823.1L1317.0 824.3L1319.0 825.4L1321.0 826.1L1323.0 826.8L1325.0 827.4L1327.0 828.1L1329.0 828.8L1331.0 829.5L1333.0 829.8L1335.0 829.3L1337.0 828.2L1339.0 827.1L1341.0 826.3L1343.0 826.0L1345.0 826.0L1347.0 826.0L1349.0 826.1L1351.0 826.3L1353.0 826.5L1355.0 826.7L1357.0 826.8L1359.0 826.8L1361.0 826.4L1363.0 825.9L1365.0 825.5L1367.0 825.4L1369.0 825.5L1371.0 825.7L1373.0 825.9L1375.0 825.8L1377.0 825.6L1379.0 825.4L1381.0 825.1L1383.0 824.7L1385.0 824.2L1387.0 823.7L1389.0 823.4L1391.0 823.1L1393.0 822.8L1395.0 822.6L1397.0 822.4L1399.0 822.2L1401.0 822.2L1403.0 822.4L1405.0 822.6L1407.0 822.8L1409.0 823.1L1411.0 823.3L1413.0 823.8L1415.0 824.8L1417.0 825.9L1419.0 826.8L1421.0 826.9L1423.0 826.0L1425.0 824.7L1427.0 823.7L1429.0 823.4L1431.0 823.3L1433.0 823.2L1435.0 823.1L1437.0 823.0L1439.0 822.9L1441.0 822.8L1443.0 822.6L1445.0 822.4L1447.0 822.0L1449.0 821.7L1451.0 821.3L1453.0 821.0L1455.0 820.8L1457.0 820.6L1459.0 820.5L1461.0 821.0L1463.0 822.6L1465.0 824.5L1467.0 826.2L1469.0 827.5L1471.0 828.4L1473.0 829.2L1475.0 829.7L1477.0 830.0L1479.0 830.2L1481.0 830.4L1483.0 830.7L1485.0 830.9L1487.0 831.1L1489.0 831.2L1491.0 831.3L1493.0 831.5L1495.0 831.6L1497.0 831.7L1499.0 831.9L1501.0 831.9L1503.0 831.9L1505.0 831.8L1507.0 831.8L1509.0 831.7L1511.0 831.6L1513.0 831.6L1515.0 831.8L1517.0 832.0L1519.0 832.4L1521.0 832.7L1523.0 833.0L1525.0 833.3L1527.0 833.3L1529.0 833.1L1531.0 832.8L1533.0 832.5L1535.0 832.2L1537.0 831.8L1539.0 831.3L1541.0 830.8L1543.0 830.3L1545.0 829.5L1547.0 828.3L1549.0 826.7L1551.0 825.2L1553.0 823.8L1555.0 822.6L1557.0 821.4L1559.0 820.4L1561.0 819.6L1563.0 818.0L1565.0 814.7L1567.0 810.9L1569.0 808.3L1571.0 806.5L1573.0 805.3L1575.0 804.6L1577.0 804.6L1579.0 804.6L1581.0 803.4L1583.0 800.8L1585.0 798.5L1587.0 797.9L1589.0 798.7L1591.0 799.6L1593.0 800.7L1595.0 801.6L1597.0 802.0L1599.0 801.4L1601.0 800.9L1603.0 801.8L1605.0 803.9L1607.0 806.2L1609.0 808.2L1611.0 809.7L1613.0 810.9L1615.0 811.5L1617.0 811.4L1619.0 811.0L1621.0 810.5L1623.0 810.7L1625.0 812.2L1627.0 814.2L1629.0 815.2L1631.0 814.9L1633.0 814.1L1635.0 813.4L1637.0 813.0L1639.0 813.4L1641.0 814.2L1643.0 815.0L1645.0 815.6L1647.0 815.8L1649.0 815.9L1651.0 816.1L1653.0 816.7L1655.0 817.9L1657.0 818.9L1659.0 819.0L1661.0 818.6L1663.0 818.3L1665.0 818.0L1667.0 818.1L1669.0 818.3L1671.0 818.4L1673.0 818.6L1675.0 818.8L1677.0 818.7L1679.0 818.0L1681.0 817.0L1683.0 816.4L1685.0 816.6L1687.0 817.0L1689.0 817.5L1691.0 817.8" fill="none" stroke="#68b9f5" stroke-width="1" stroke-linejoin="round"/><g shape-rendering="crispEdges"><path d="M2 681h3v42h-3zM6 683h3v32h-3zM10 706h3v19h-3zM14 692h3v14h-3zM17 685h1v13h-1zM16 688h3v10h-3zM19 689h1v26h-1zM18 689h3v22h-3zM23 710h1v15h-1zM22 710h3v13h-3zM27 718h1v10h-1zM26 719h3v9h-3zM30 733h3v8h-3zM37 727h1v11h-1zM36 727h3v8h-3zM41 723h1v15h-1zM40 723h3v11h-3zM42 676h3v15h-3zM47 701h1v14h-1zM46 703h3v12h-3zM50 712h3v8h-3zM53 715h1v9h-1zM52 718h3v6h-3zM56 693h3v13h-3zM59 683h1v10h-1zM58 683h3v8h-3zM61 674h1v10h-1zM60 675h3v9h-3zM63 664h1v11h-1zM62 664h3v9h-3zM65 664h1v11h-1zM64 664h3v9h-3zM67 672h1v8h-1zM66 672h3v6h-3zM70 656h3v1h-3zM72 659h3v16h-3zM80 676h3v5h-3zM82 661h3v11h-3zM84 649h3v9h-3zM86 640h3v1h-3zM91 632h1v9h-1zM90 634h3v7h-3zM93 636h1v11h-1zM92 636h3v8h-3zM94 636h3v11h-3zM97 634h1v9h-1zM96 635h3v8h-3zM98 630h3v1h-3zM102 621h3v1h-3zM106 604h3v17h-3zM108 606h3v8h-3zM111 606h1v8h-1zM110 606h3v6h-3zM114 608h3v13h-3zM117 625h1v4h-1zM116 626h3v2h-3zM123 604h1v15h-1zM122 604h3v13h-3zM126 597h3v17h-3zM131 612h1v16h-1zM130 612h3v11h-3zM133 618h1v17h-1zM132 618h3v13h-3zM137 633h1v15h-1zM136 633h3v10h-3zM139 570h1v9h-1zM138 570h3v7h-3zM140 572h3v12h-3zM142 576h3v18h-3zM144 576h3v18h-3zM147 575h1v15h-1zM146 578h3v10h-3zM149 574h1v16h-1zM148 579h3v11h-3zM151 575h1v16h-1zM150 580h3v11h-3zM153 577h1v13h-1zM152 577h3v9h-3zM154 577h3v15h-3zM156 581h3v13h-3zM158 582h3v13h-3zM161 584h1v13h-1zM160 584h3v11h-3zM163 583h1v5h-1zM162 584h3v4h-3zM164 580h3v5h-3zM167 573h1v7h-1zM166 574h3v4h-3zM168 566h3v12h-3zM170 569h3v11h-3zM172 572h3v12h-3zM174 573h3v14h-3zM177 573h1v13h-1zM176 576h3v10h-3zM178 573h3v11h-3zM181 573h1v11h-1zM180 576h3v8h-3zM183 572h1v5h-1zM182 573h3v4h-3zM184 572h3v4h-3zM186 554h3v1h-3zM189 557h1v4h-1zM188 559h3v2h-3zM191 562h1v10h-1zM190 564h3v8h-3zM193 565h1v19h-1zM192 570h3v9h-3zM195 567h1v10h-1zM194 570h3v7h-3zM196 567h3v10h-3zM199 568h1v5h-1zM198 570h3v3h-3zM201 565h1v5h-1zM200 565h3v4h-3zM202 560h3v7h-3zM205 554h1v10h-1zM204 558h3v6h-3zM207 550h1v17h-1zM206 553h3v14h-3zM208 549h3v1h-3zM211 539h1v7h-1zM210 539h3v6h-3zM212 532h3v1h-3zM214 518h3v1h-3zM216 509h3v1h-3zM218 499h3v1h-3zM220 490h3v1h-3zM222 476h3v1h-3zM224 467h3v1h-3zM226 459h3v9h-3zM229 450h1v18h-1zM228 452h3v16h-3zM231 445h1v16h-1zM230 447h3v12h-3zM232 440h3v15h-3zM235 453h1v8h-1zM234 453h3v7h-3zM237 456h1v10h-1zM236 459h3v7h-3zM238 461h3v11h-3zM241 466h1v12h-1zM240 469h3v9h-3zM243 468h1v13h-1zM242 468h3v10h-3zM245 477h1v12h-1zM244 478h3v9h-3zM246 478h3v11h-3zM248 479h3v11h-3zM250 485h3v11h-3zM252 482h3v13h-3zM255 479h1v15h-1zM254 479h3v11h-3zM257 473h1v13h-1zM256 474h3v8h-3zM258 468h3v15h-3zM261 472h1v16h-1zM260 475h3v8h-3zM262 481h3v9h-3zM264 484h3v10h-3zM266 486h3v12h-3zM268 480h3v1h-3zM271 470h1v7h-1zM270 470h3v5h-3zM272 459h3v15h-3zM274 466h3v10h-3zM277 477h1v6h-1zM276 478h3v4h-3zM278 483h3v7h-3zM281 483h1v15h-1zM280 485h3v13h-3zM282 496h3v9h-3zM284 512h3v1h-3zM286 507h3v1h-3zM288 497h3v13h-3zM291 503h1v13h-1zM290 506h3v10h-3zM293 501h1v4h-1zM292 501h3v3h-3zM295 493h1v3h-1zM294 493h3v2h-3zM296 483h3v1h-3zM299 469h1v12h-1zM298 469h3v8h-3zM301 471h1v10h-1zM300 471h3v9h-3zM303 470h1v4h-1zM302 470h3v3h-3zM305 462h1v3h-1zM304 462h3v2h-3zM306 454h3v1h-3zM308 438h3v1h-3zM310 430h3v1h-3zM312 426h3v1h-3zM314 421h3v1h-3zM316 415h3v1h-3zM318 407h3v1h-3zM320 396h3v1h-3zM322 389h3v1h-3zM324 380h3v1h-3zM326 365h3v15h-3zM329 357h1v7h-1zM328 357h3v5h-3zM331 352h1v5h-1zM330 353h3v4h-3zM332 344h3v1h-3zM335 318h1v19h-1zM334 318h3v15h-3zM336 316h3v11h-3zM338 313h3v9h-3zM340 299h3v1h-3zM342 290h3v1h-3zM344 281h3v1h-3zM347 265h1v17h-1zM346 265h3v11h-3zM349 270h1v14h-1zM348 274h3v10h-3zM350 273h3v19h-3zM352 281h3v1h-3zM354 277h3v1h-3zM356 271h3v1h-3zM359 248h1v32h-1zM358 248h3v26h-3zM360 271h3v1h-3zM362 284h3v1h-3zM364 285h3v8h-3zM367 284h1v16h-1zM366 287h3v13h-3zM368 281h3v28h-3zM371 293h1v5h-1zM370 294h3v3h-3zM373 274h1v19h-1zM372 278h3v12h-3zM374 274h3v19h-3zM377 292h1v14h-1zM376 297h3v9h-3zM379 292h1v14h-1zM378 296h3v10h-3zM381 280h1v17h-1zM380 280h3v13h-3zM383 277h1v17h-1zM382 281h3v13h-3zM384 275h3v15h-3zM387 270h1v15h-1zM386 270h3v10h-3zM389 262h1v3h-1zM388 262h3v2h-3zM390 255h3v8h-3zM392 246h3v17h-3zM394 250h3v12h-3zM396 247h3v7h-3zM399 237h1v9h-1zM398 238h3v8h-3zM401 237h1v9h-1zM400 237h3v6h-3zM402 221h3v1h-3zM404 212h3v1h-3zM406 203h3v1h-3zM409 184h1v20h-1zM408 188h3v11h-3zM411 190h1v13h-1zM410 193h3v10h-3zM413 195h1v11h-1zM412 196h3v8h-3zM415 196h1v11h-1zM414 196h3v7h-3zM417 195h1v15h-1zM416 198h3v12h-3zM418 214h3v4h-3zM420 212h3v1h-3zM422 208h3v1h-3zM425 199h1v17h-1zM424 204h3v9h-3zM426 204h3v14h-3zM428 207h3v14h-3zM430 202h3v1h-3zM432 192h3v1h-3zM435 178h1v13h-1zM434 178h3v10h-3zM436 169h3v9h-3zM438 160h3v8h-3zM440 152h3v1h-3zM442 136h3v1h-3zM444 127h3v1h-3zM447 127h1v9h-1zM446 130h3v6h-3zM448 127h3v20h-3zM451 94h1v10h-1zM450 94h3v7h-3zM453 93h1v13h-1zM452 93h3v9h-3zM454 96h3v14h-3zM457 97h1v17h-1zM456 97h3v11h-3zM458 110h3v15h-3zM461 116h1v18h-1zM460 116h3v14h-3zM463 100h1v20h-1zM462 102h3v18h-3zM465 100h1v20h-1zM464 104h3v12h-3zM467 107h1v19h-1zM466 112h3v14h-3zM469 113h1v18h-1zM468 117h3v14h-3zM470 107h3v18h-3zM473 96h1v22h-1zM472 103h3v15h-3zM474 99h3v11h-3zM476 96h3v10h-3zM478 86h3v18h-3zM481 105h1v8h-1zM480 106h3v6h-3zM483 108h1v10h-1zM482 109h3v9h-3zM484 106h3v19h-3zM487 113h1v15h-1zM486 113h3v13h-3zM489 117h1v14h-1zM488 120h3v9h-3zM490 138h3v1h-3zM493 145h1v7h-1zM492 146h3v4h-3zM494 151h3v13h-3zM497 151h1v11h-1zM496 151h3v8h-3zM498 145h3v16h-3zM500 166h3v1h-3zM502 176h3v1h-3zM504 184h3v6h-3zM506 190h3v11h-3zM508 207h3v1h-3zM510 217h3v1h-3zM512 223h3v1h-3zM514 226h3v1h-3zM516 237h3v1h-3zM518 239h3v1h-3zM520 231h3v19h-3zM523 240h1v15h-1zM522 242h3v10h-3zM524 239h3v20h-3zM527 239h1v18h-1zM526 241h3v13h-3zM528 248h3v12h-3zM530 257h3v12h-3zM532 257h3v21h-3zM534 272h3v1h-3zM536 284h3v1h-3zM538 290h3v1h-3zM540 297h3v1h-3zM542 300h3v1h-3zM545 294h1v19h-1zM544 298h3v12h-3zM546 298h3v16h-3zM549 308h1v10h-1zM548 311h3v7h-3zM551 308h1v10h-1zM550 311h3v7h-3zM552 298h3v11h-3zM555 298h1v11h-1zM554 300h3v6h-3zM557 288h1v14h-1zM556 288h3v11h-3zM558 293h3v10h-3zM561 297h1v12h-1zM560 297h3v10h-3zM563 309h1v18h-1zM562 312h3v15h-3zM564 325h3v7h-3zM566 335h3v1h-3zM569 338h1v9h-1zM568 338h3v7h-3zM570 356h3v1h-3zM572 360h3v1h-3zM574 363h3v1h-3zM576 367h3v1h-3zM579 364h1v8h-1zM578 367h3v5h-3zM581 372h1v8h-1zM580 374h3v6h-3zM583 372h1v8h-1zM582 374h3v6h-3zM584 382h3v13h-3zM587 395h1v16h-1zM586 395h3v12h-3zM588 420h3v1h-3zM590 420h3v1h-3zM592 427h3v1h-3zM595 426h1v16h-1zM594 429h3v11h-3zM597 425h1v13h-1zM596 427h3v9h-3zM598 410h3v19h-3zM600 410h3v19h-3zM603 403h1v18h-1zM602 406h3v10h-3zM605 397h1v8h-1zM604 397h3v5h-3zM607 374h1v27h-1zM606 378h3v23h-3zM608 374h3v27h-3zM611 375h1v20h-1zM610 378h3v17h-3zM613 375h1v20h-1zM612 378h3v17h-3zM615 374h1v19h-1zM614 374h3v15h-3zM617 374h1v19h-1zM616 379h3v14h-3zM618 373h3v1h-3zM620 364h3v1h-3zM622 352h3v1h-3zM624 345h3v1h-3zM626 336h3v1h-3zM628 327h3v1h-3zM630 313h3v1h-3zM633 305h1v6h-1zM632 306h3v5h-3zM635 295h1v14h-1zM634 297h3v9h-3zM637 296h1v15h-1zM636 296h3v10h-3zM638 297h3v18h-3zM640 304h3v13h-3zM643 305h1v18h-1zM642 308h3v15h-3zM645 321h1v13h-1zM644 325h3v9h-3zM647 328h1v12h-1zM646 330h3v10h-3zM649 321h1v17h-1zM648 323h3v11h-3zM650 317h3v17h-3zM653 313h1v19h-1zM652 316h3v16h-3zM654 306h3v1h-3zM656 297h3v1h-3zM659 286h1v10h-1zM658 289h3v7h-3zM660 278h3v17h-3zM662 288h3v17h-3zM665 292h1v14h-1zM664 295h3v11h-3zM667 297h1v12h-1zM666 297h3v11h-3zM668 302h3v8h-3zM671 305h1v11h-1zM670 308h3v8h-3zM672 304h3v1h-3zM674 296h3v5h-3zM676 286h3v14h-3zM678 300h3v1h-3zM680 307h3v1h-3zM682 316h3v1h-3zM684 332h3v1h-3zM687 332h1v5h-1zM686 332h3v4h-3zM688 331h3v16h-3zM690 335h3v15h-3zM692 338h3v18h-3zM694 353h3v6h-3zM696 362h3v1h-3zM698 367h3v1h-3zM701 356h1v27h-1zM700 356h3v18h-3zM702 362h3v13h-3zM705 360h1v15h-1zM704 362h3v9h-3zM706 374h3v11h-3zM709 383h1v15h-1zM708 383h3v12h-3zM711 389h1v12h-1zM710 393h3v8h-3zM712 394h3v12h-3zM714 401h3v10h-3zM717 411h1v7h-1zM716 411h3v6h-3zM719 407h1v9h-1zM718 409h3v7h-3zM721 399h1v15h-1zM720 404h3v10h-3zM722 416h3v1h-3zM724 416h3v7h-3zM727 416h1v20h-1zM726 419h3v17h-3zM728 421h3v11h-3zM730 424h3v10h-3zM733 424h1v10h-1zM732 426h3v8h-3zM734 424h3v12h-3zM737 420h1v9h-1zM736 423h3v6h-3zM738 425h3v5h-3zM740 432h3v1h-3zM742 430h3v4h-3zM745 428h1v9h-1zM744 430h3v7h-3zM746 430h3v10h-3zM749 432h1v10h-1zM748 432h3v7h-3zM750 438h3v10h-3zM752 434h3v7h-3zM755 430h1v7h-1zM754 430h3v6h-3zM757 420h1v9h-1zM756 421h3v8h-3zM759 416h1v12h-1zM758 416h3v11h-3zM760 410h3v18h-3zM763 417h1v11h-1zM762 420h3v8h-3zM764 417h3v11h-3zM767 417h1v12h-1zM766 417h3v11h-3zM769 415h1v9h-1zM768 417h3v7h-3zM770 410h3v8h-3zM773 407h1v9h-1zM772 407h3v7h-3zM775 402h1v15h-1zM774 405h3v12h-3zM776 420h3v1h-3zM778 418h3v11h-3zM780 424h3v8h-3zM782 429h3v11h-3zM785 425h1v8h-1zM784 425h3v7h-3zM787 422h1v11h-1zM786 424h3v6h-3zM789 430h1v5h-1zM788 432h3v3h-3zM791 433h1v4h-1zM790 433h3v3h-3zM793 429h1v6h-1zM792 430h3v5h-3zM794 426h3v10h-3zM796 440h3v1h-3zM798 440h3v1h-3zM800 444h3v9h-3zM803 444h1v8h-1zM802 446h3v6h-3zM805 440h1v13h-1zM804 442h3v11h-3zM806 449h3v6h-3zM808 458h3v1h-3zM810 460h3v1h-3zM812 453h3v19h-3zM815 456h1v13h-1zM814 456h3v9h-3zM816 453h3v13h-3zM818 463h3v5h-3zM820 469h3v1h-3zM822 473h3v1h-3zM824 468h3v13h-3zM826 477h3v8h-3zM829 481h1v11h-1zM828 482h3v10h-3zM831 481h1v9h-1zM830 481h3v8h-3zM833 478h1v10h-1zM832 478h3v9h-3zM834 476h3v15h-3zM836 480h3v15h-3zM839 477h1v15h-1zM838 477h3v13h-3zM840 472h3v21h-3zM842 486h3v9h-3zM844 500h3v5h-3zM846 507h3v1h-3zM848 512h3v1h-3zM850 518h3v11h-3zM853 516h1v10h-1zM852 516h3v9h-3zM855 515h1v10h-1zM854 517h3v8h-3zM857 518h1v9h-1zM856 520h3v7h-3zM858 517h3v12h-3zM861 508h1v13h-1zM860 508h3v10h-3zM862 505h3v9h-3zM865 499h1v10h-1zM864 503h3v6h-3zM866 494h3v14h-3zM868 495h3v11h-3zM871 495h1v9h-1zM870 496h3v8h-3zM873 488h1v9h-1zM872 490h3v6h-3zM875 481h1v16h-1zM874 485h3v8h-3zM877 486h1v11h-1zM876 488h3v9h-3zM878 487h3v11h-3zM881 487h1v12h-1zM880 490h3v9h-3zM882 486h3v17h-3zM884 479h3v14h-3zM886 476h3v12h-3zM889 472h1v12h-1zM888 472h3v9h-3zM891 472h1v12h-1zM890 475h3v9h-3zM892 471h3v13h-3zM895 470h1v10h-1zM894 472h3v8h-3zM896 469h3v9h-3zM898 469h3v9h-3zM901 466h1v14h-1zM900 470h3v10h-3zM902 463h3v9h-3zM904 456h3v11h-3zM907 460h1v8h-1zM906 460h3v6h-3zM908 460h3v10h-3zM911 461h1v11h-1zM910 463h3v9h-3zM913 458h1v13h-1zM912 461h3v8h-3zM914 454h3v16h-3zM916 446h3v8h-3zM919 438h1v10h-1zM918 438h3v7h-3zM921 438h1v10h-1zM920 438h3v8h-3zM923 442h1v14h-1zM922 442h3v10h-3zM925 451h1v8h-1zM924 452h3v7h-3zM927 458h1v8h-1zM926 458h3v5h-3zM929 462h1v8h-1zM928 463h3v7h-3zM930 463h3v12h-3zM932 458h3v11h-3zM934 449h3v1h-3zM936 441h3v1h-3zM939 432h1v12h-1zM938 432h3v10h-3zM941 423h1v5h-1zM940 424h3v4h-3zM942 412h3v16h-3zM944 410h3v9h-3zM946 404h3v11h-3zM948 417h3v6h-3zM951 419h1v12h-1zM950 421h3v10h-3zM953 421h1v15h-1zM952 421h3v12h-3zM955 418h1v14h-1zM954 418h3v12h-3zM957 423h1v9h-1zM956 423h3v6h-3zM958 422h3v12h-3zM961 429h1v6h-1zM960 429h3v5h-3zM962 430h3v7h-3zM964 425h3v15h-3zM967 434h1v8h-1zM966 436h3v6h-3zM968 439h3v7h-3zM971 441h1v11h-1zM970 445h3v7h-3zM973 449h1v10h-1zM972 450h3v7h-3zM975 452h1v14h-1zM974 457h3v9h-3zM977 466h1v9h-1zM976 468h3v7h-3zM979 478h1v6h-1zM978 478h3v4h-3zM980 486h3v7h-3zM982 499h3v1h-3zM984 495h3v5h-3zM987 484h1v18h-1zM986 484h3v15h-3zM989 494h1v12h-1zM988 496h3v10h-3zM991 502h1v10h-1zM990 502h3v8h-3zM993 499h1v14h-1zM992 503h3v10h-3zM995 499h1v9h-1zM994 499h3v6h-3zM996 497h3v9h-3zM999 496h1v11h-1zM998 499h3v8h-3zM1001 491h1v17h-1zM1000 495h3v13h-3zM1003 507h1v6h-1zM1002 508h3v5h-3zM1005 512h1v12h-1zM1004 512h3v10h-3zM1007 515h1v11h-1zM1006 515h3v7h-3zM1009 519h1v15h-1zM1008 519h3v12h-3zM1010 522h3v12h-3zM1013 524h1v12h-1zM1012 525h3v8h-3zM1015 531h1v6h-1zM1014 531h3v4h-3zM1016 534h3v7h-3zM1019 537h1v11h-1zM1018 539h3v7h-3zM1020 548h3v1h-3zM1022 552h3v1h-3zM1024 552h3v11h-3zM1027 563h1v11h-1zM1026 564h3v10h-3zM1029 571h1v11h-1zM1028 571h3v9h-3zM1030 577h3v7h-3zM1033 580h1v10h-1zM1032 580h3v7h-3zM1034 577h3v7h-3zM1037 564h1v14h-1zM1036 568h3v10h-3zM1039 556h1v16h-1zM1038 556h3v15h-3zM1040 544h3v19h-3zM1042 545h3v13h-3zM1044 541h3v17h-3zM1046 541h3v5h-3zM1048 540h3v1h-3zM1050 538h3v7h-3zM1053 534h1v15h-1zM1052 534h3v11h-3zM1055 537h1v15h-1zM1054 541h3v7h-3zM1057 537h1v18h-1zM1056 537h3v14h-3zM1059 529h1v14h-1zM1058 529h3v11h-3zM1061 523h1v13h-1zM1060 523h3v9h-3zM1062 516h3v14h-3zM1065 512h1v18h-1zM1064 512h3v16h-3zM1067 512h1v18h-1zM1066 512h3v14h-3zM1069 517h1v15h-1zM1068 517h3v11h-3zM1070 519h3v13h-3zM1073 516h1v16h-1zM1072 516h3v11h-3zM1075 519h1v12h-1zM1074 522h3v9h-3zM1077 522h1v8h-1zM1076 522h3v6h-3zM1079 532h1v10h-1zM1078 532h3v8h-3zM1081 534h1v14h-1zM1080 537h3v11h-3zM1082 526h3v17h-3zM1084 527h3v11h-3zM1086 526h3v8h-3zM1088 515h3v6h-3zM1091 511h1v8h-1zM1090 511h3v7h-3zM1092 507h3v13h-3zM1095 519h1v12h-1zM1094 519h3v9h-3zM1097 519h1v12h-1zM1096 519h3v10h-3zM1099 515h1v15h-1zM1098 515h3v10h-3zM1100 515h3v15h-3zM1102 516h3v14h-3zM1105 512h1v3h-1zM1104 513h3v2h-3zM1107 505h1v7h-1zM1106 507h3v5h-3zM1109 498h1v11h-1zM1108 501h3v8h-3zM1110 497h3v11h-3zM1113 497h1v11h-1zM1112 500h3v7h-3zM1114 495h3v8h-3zM1116 490h3v12h-3zM1119 490h1v14h-1zM1118 495h3v9h-3zM1121 491h1v15h-1zM1120 494h3v10h-3zM1122 491h3v7h-3zM1124 491h3v7h-3zM1126 484h3v14h-3zM1128 481h3v12h-3zM1131 478h1v15h-1zM1130 480h3v8h-3zM1132 474h3v10h-3zM1135 472h1v9h-1zM1134 475h3v4h-3zM1137 468h1v12h-1zM1136 471h3v9h-3zM1138 473h3v10h-3zM1141 474h1v13h-1zM1140 474h3v11h-3zM1142 473h3v15h-3zM1144 481h3v10h-3zM1146 486h3v6h-3zM1149 490h1v6h-1zM1148 491h3v5h-3zM1150 500h3v4h-3zM1153 506h1v8h-1zM1152 508h3v4h-3zM1154 522h3v1h-3zM1156 521h3v8h-3zM1158 519h3v20h-3zM1160 519h3v18h-3zM1162 518h3v18h-3zM1164 515h3v11h-3zM1167 512h1v11h-1zM1166 512h3v8h-3zM1168 517h3v7h-3zM1170 520h3v8h-3zM1173 524h1v8h-1zM1172 524h3v6h-3zM1174 527h3v9h-3zM1177 531h1v10h-1zM1176 531h3v8h-3zM1178 529h3v15h-3zM1181 544h1v7h-1zM1180 544h3v6h-3zM1182 542h3v17h-3zM1185 540h1v11h-1zM1184 541h3v10h-3zM1186 534h3v4h-3zM1189 524h1v12h-1zM1188 524h3v10h-3zM1191 525h1v8h-1zM1190 525h3v7h-3zM1193 519h1v12h-1zM1192 522h3v9h-3zM1195 521h1v14h-1zM1194 523h3v10h-3zM1196 523h3v15h-3zM1198 529h3v13h-3zM1201 534h1v10h-1zM1200 537h3v7h-3zM1203 533h1v11h-1zM1202 533h3v10h-3zM1204 532h3v12h-3zM1206 533h3v10h-3zM1209 530h1v13h-1zM1208 534h3v9h-3zM1211 536h1v6h-1zM1210 537h3v4h-3zM1213 538h1v5h-1zM1212 539h3v3h-3zM1214 536h3v11h-3zM1217 539h1v10h-1zM1216 542h3v4h-3zM1219 543h1v9h-1zM1218 545h3v5h-3zM1221 542h1v8h-1zM1220 543h3v7h-3zM1222 538h3v9h-3zM1225 537h1v7h-1zM1224 538h3v4h-3zM1227 530h1v8h-1zM1226 532h3v6h-3zM1229 527h1v10h-1zM1228 529h3v6h-3zM1231 522h1v9h-1zM1230 523h3v7h-3zM1233 520h1v10h-1zM1232 523h3v7h-3zM1235 518h1v13h-1zM1234 520h3v11h-3zM1236 505h3v12h-3zM1238 504h3v12h-3zM1241 503h1v13h-1zM1240 506h3v10h-3zM1243 497h1v17h-1zM1242 497h3v13h-3zM1245 495h1v13h-1zM1244 497h3v11h-3zM1246 489h3v7h-3zM1248 496h3v5h-3zM1251 496h1v5h-1zM1250 497h3v4h-3zM1252 502h3v7h-3zM1254 498h3v8h-3zM1256 496h3v8h-3zM1258 492h3v11h-3zM1261 488h1v11h-1zM1260 488h3v10h-3zM1262 477h3v1h-3zM1264 468h3v1h-3zM1266 459h3v1h-3zM1268 459h3v1h-3zM1271 441h1v10h-1zM1270 444h3v7h-3zM1273 445h1v9h-1zM1272 445h3v6h-3zM1275 450h1v11h-1zM1274 450h3v8h-3zM1277 454h1v12h-1zM1276 454h3v9h-3zM1279 445h1v9h-1zM1278 447h3v7h-3zM1281 445h1v9h-1zM1280 447h3v7h-3zM1283 446h1v15h-1zM1282 446h3v13h-3zM1284 444h3v12h-3zM1287 439h1v10h-1zM1286 441h3v8h-3zM1288 447h3v6h-3zM1291 452h1v6h-1zM1290 453h3v4h-3zM1292 455h3v11h-3zM1294 456h3v10h-3zM1297 458h1v10h-1zM1296 460h3v6h-3zM1299 461h1v10h-1zM1298 464h3v7h-3zM1300 462h3v15h-3zM1303 467h1v14h-1zM1302 468h3v13h-3zM1305 468h1v17h-1zM1304 473h3v12h-3zM1306 458h3v10h-3zM1308 458h3v10h-3zM1310 466h3v11h-3zM1313 469h1v12h-1zM1312 469h3v9h-3zM1315 471h1v14h-1zM1314 471h3v9h-3zM1316 474h3v14h-3zM1318 474h3v18h-3zM1320 491h3v5h-3zM1322 500h3v1h-3zM1324 500h3v12h-3zM1327 501h1v15h-1zM1326 502h3v14h-3zM1329 486h1v14h-1zM1328 490h3v10h-3zM1331 487h1v11h-1zM1330 489h3v9h-3zM1333 484h1v14h-1zM1332 487h3v11h-3zM1335 480h1v12h-1zM1334 480h3v11h-3zM1337 476h1v12h-1zM1336 476h3v8h-3zM1338 468h3v13h-3zM1341 469h1v12h-1zM1340 469h3v10h-3zM1343 470h1v11h-1zM1342 473h3v6h-3zM1345 470h1v13h-1zM1344 470h3v10h-3zM1347 481h1v9h-1zM1346 482h3v8h-3zM1349 485h1v7h-1zM1348 485h3v6h-3zM1351 485h1v11h-1zM1350 489h3v7h-3zM1352 488h3v13h-3zM1354 488h3v13h-3zM1357 497h1v6h-1zM1356 499h3v4h-3zM1358 498h3v8h-3zM1361 497h1v11h-1zM1360 499h3v9h-3zM1362 490h3v1h-3zM1364 480h3v11h-3zM1367 480h1v11h-1zM1366 480h3v9h-3zM1368 498h3v1h-3zM1370 502h3v1h-3zM1372 497h3v15h-3zM1374 488h3v19h-3zM1376 486h3v14h-3zM1378 479h3v6h-3zM1380 471h3v1h-3zM1382 462h3v9h-3zM1384 463h3v6h-3zM1387 464h1v7h-1zM1386 465h3v6h-3zM1389 461h1v7h-1zM1388 461h3v6h-3zM1390 457h3v11h-3zM1393 450h1v16h-1zM1392 450h3v14h-3zM1394 455h3v9h-3zM1397 457h1v9h-1zM1396 458h3v8h-3zM1398 454h3v6h-3zM1400 449h3v10h-3zM1403 451h1v10h-1zM1402 453h3v8h-3zM1404 452h3v10h-3zM1406 456h3v6h-3zM1409 456h1v8h-1zM1408 456h3v6h-3zM1411 461h1v9h-1zM1410 464h3v6h-3zM1413 461h1v9h-1zM1412 464h3v6h-3zM1414 474h3v9h-3zM1416 476h3v12h-3zM1419 469h1v13h-1zM1418 469h3v12h-3zM1420 464h3v1h-3zM1422 454h3v5h-3zM1424 448h3v8h-3zM1427 443h1v12h-1zM1426 443h3v9h-3zM1428 443h3v9h-3zM1430 448h3v8h-3zM1432 449h3v12h-3zM1434 456h3v10h-3zM1437 464h1v5h-1zM1436 464h3v4h-3zM1439 467h1v5h-1zM1438 468h3v4h-3zM1440 469h3v12h-3zM1442 476h3v11h-3zM1445 476h1v16h-1zM1444 476h3v12h-3zM1447 470h1v14h-1zM1446 473h3v11h-3zM1448 479h3v7h-3zM1451 488h1v4h-1zM1450 488h3v3h-3zM1453 495h1v6h-1zM1452 496h3v5h-3zM1454 496h3v8h-3zM1456 497h3v11h-3zM1458 505h3v8h-3zM1461 509h1v9h-1zM1460 511h3v5h-3zM1463 505h1v8h-1zM1462 507h3v6h-3zM1465 509h1v8h-1zM1464 509h3v6h-3zM1467 511h1v11h-1zM1466 511h3v7h-3zM1468 516h3v14h-3zM1470 521h3v12h-3zM1472 527h3v12h-3zM1474 539h3v7h-3zM1476 547h3v8h-3zM1478 551h3v7h-3zM1480 554h3v12h-3zM1482 552h3v10h-3zM1485 548h1v12h-1zM1484 552h3v8h-3zM1486 548h3v14h-3zM1488 540h3v14h-3zM1490 534h3v1h-3zM1492 532h3v1h-3zM1494 523h3v15h-3zM1497 527h1v8h-1zM1496 528h3v5h-3zM1498 527h3v8h-3zM1500 527h3v6h-3zM1502 526h3v8h-3zM1505 525h1v7h-1zM1504 527h3v5h-3zM1507 522h1v10h-1zM1506 524h3v8h-3zM1509 523h1v11h-1zM1508 524h3v10h-3zM1510 524h3v7h-3zM1512 524h3v11h-3zM1514 522h3v9h-3zM1516 513h3v14h-3zM1519 515h1v10h-1zM1518 517h3v8h-3zM1521 518h1v6h-1zM1520 518h3v4h-3zM1522 519h3v6h-3zM1524 519h3v8h-3zM1527 517h1v6h-1zM1526 519h3v2h-3zM1529 513h1v9h-1zM1528 513h3v8h-3zM1530 509h3v10h-3zM1533 505h1v9h-1zM1532 507h3v7h-3zM1534 501h3v11h-3zM1536 493h3v1h-3zM1538 481h3v19h-3zM1541 480h1v9h-1zM1540 482h3v7h-3zM1542 476h3v1h-3zM1544 467h3v1h-3zM1546 458h3v4h-3zM1548 452h3v1h-3zM1551 441h1v13h-1zM1550 443h3v11h-3zM1552 446h3v10h-3zM1555 453h1v11h-1zM1554 455h3v9h-3zM1557 436h1v9h-1zM1556 438h3v7h-3zM1558 429h3v1h-3zM1560 421h3v1h-3zM1562 411h3v8h-3zM1564 405h3v1h-3zM1567 395h1v16h-1zM1566 400h3v11h-3zM1569 398h1v11h-1zM1568 401h3v7h-3zM1571 398h1v15h-1zM1570 401h3v8h-3zM1572 401h3v18h-3zM1574 394h3v7h-3zM1576 385h3v1h-3zM1578 377h3v1h-3zM1580 368h3v1h-3zM1582 358h3v10h-3zM1585 354h1v12h-1zM1584 354h3v9h-3zM1587 360h1v15h-1zM1586 364h3v9h-3zM1588 380h3v1h-3zM1591 386h1v4h-1zM1590 386h3v3h-3zM1592 400h3v1h-3zM1594 408h3v1h-3zM1596 418h3v1h-3zM1598 415h3v13h-3zM1601 417h1v12h-1zM1600 417h3v10h-3zM1603 419h1v17h-1zM1602 419h3v14h-3zM1604 427h3v12h-3zM1607 430h1v11h-1zM1606 431h3v10h-3zM1609 434h1v12h-1zM1608 434h3v11h-3zM1611 439h1v11h-1zM1610 441h3v9h-3zM1613 444h1v10h-1zM1612 447h3v7h-3zM1614 452h3v6h-3zM1617 452h1v10h-1zM1616 452h3v7h-3zM1619 453h1v13h-1zM1618 456h3v10h-3zM1621 451h1v11h-1zM1620 451h3v9h-3zM1622 444h3v17h-3zM1625 436h1v18h-1zM1624 438h3v16h-3zM1627 430h1v19h-1zM1626 434h3v15h-3zM1629 428h1v14h-1zM1628 431h3v11h-3zM1630 428h3v10h-3zM1632 424h3v12h-3zM1634 427h3v9h-3zM1637 428h1v10h-1zM1636 429h3v7h-3zM1639 430h1v8h-1zM1638 430h3v6h-3zM1641 432h1v9h-1zM1640 432h3v6h-3zM1642 429h3v13h-3zM1645 442h1v4h-1zM1644 443h3v3h-3zM1646 441h3v13h-3zM1648 444h3v1h-3zM1650 440h3v1h-3zM1652 431h3v1h-3zM1654 422h3v1h-3zM1656 413h3v1h-3zM1659 406h1v8h-1zM1658 407h3v7h-3zM1660 398h3v19h-3zM1663 392h1v15h-1zM1662 396h3v11h-3zM1664 392h3v14h-3zM1667 391h1v12h-1zM1666 391h3v9h-3zM1669 384h1v15h-1zM1668 387h3v11h-3zM1671 391h1v11h-1zM1670 393h3v6h-3zM1673 397h1v9h-1zM1672 400h3v6h-3zM1674 384h3v14h-3zM1677 382h1v11h-1zM1676 382h3v9h-3zM1679 379h1v12h-1zM1678 379h3v9h-3zM1681 378h1v9h-1zM1680 380h3v6h-3zM1682 372h3v1h-3zM1684 363h3v1h-3zM1686 354h3v1h-3zM1688 345h3v1h-3zM1690 336h3v1h-3zM1 772h2v3h-2z" fill="#000"/><path d="M3 682h1v40h-1zM7 684h1v30h-1zM11 707h1v17h-1zM15 693h1v12h-1zM19 690h1v20h-1zM27 720h1v7h-1zM37 728h1v6h-1zM41 724h1v9h-1zM43 677h1v13h-1zM57 694h1v11h-1zM63 665h1v7h-1zM65 665h1v7h-1zM83 662h1v9h-1zM85 650h1v7h-1zM95 637h1v9h-1zM123 605h1v11h-1zM131 613h1v9h-1zM139 571h1v5h-1zM141 573h1v10h-1zM149 580h1v9h-1zM165 581h1v3h-1zM167 575h1v2h-1zM169 567h1v10h-1zM181 577h1v6h-1zM183 574h1v2h-1zM185 573h1v2h-1zM201 566h1v2h-1zM203 561h1v5h-1zM205 559h1v4h-1zM207 554h1v12h-1zM211 540h1v4h-1zM227 460h1v7h-1zM229 453h1v14h-1zM231 448h1v10h-1zM233 441h1v13h-1zM241 470h1v7h-1zM247 479h1v9h-1zM251 486h1v9h-1zM255 480h1v9h-1zM257 475h1v6h-1zM259 469h1v13h-1zM263 482h1v7h-1zM271 471h1v3h-1zM281 486h1v11h-1zM289 498h1v11h-1zM293 502h1v1h-1zM299 470h1v6h-1zM303 471h1v1h-1zM329 358h1v3h-1zM331 354h1v2h-1zM335 319h1v13h-1zM347 266h1v9h-1zM369 282h1v26h-1zM371 295h1v1h-1zM373 279h1v10h-1zM375 275h1v17h-1zM379 297h1v8h-1zM387 271h1v8h-1zM391 256h1v6h-1zM393 247h1v15h-1zM397 248h1v5h-1zM399 239h1v6h-1zM401 238h1v4h-1zM409 189h1v9h-1zM411 194h1v8h-1zM417 199h1v10h-1zM425 205h1v7h-1zM435 179h1v8h-1zM453 94h1v7h-1zM457 98h1v9h-1zM463 103h1v16h-1zM465 105h1v10h-1zM471 108h1v16h-1zM473 104h1v13h-1zM475 100h1v9h-1zM477 97h1v8h-1zM479 87h1v16h-1zM493 147h1v2h-1zM497 152h1v6h-1zM499 146h1v14h-1zM507 191h1v9h-1zM521 232h1v17h-1zM529 249h1v10h-1zM551 312h1v5h-1zM553 299h1v9h-1zM555 301h1v4h-1zM557 289h1v9h-1zM559 294h1v8h-1zM561 298h1v8h-1zM583 375h1v4h-1zM585 383h1v11h-1zM597 428h1v7h-1zM601 411h1v17h-1zM603 407h1v8h-1zM605 398h1v3h-1zM609 375h1v25h-1zM611 379h1v15h-1zM615 375h1v13h-1zM633 307h1v3h-1zM635 298h1v7h-1zM649 324h1v9h-1zM651 318h1v15h-1zM653 317h1v14h-1zM659 290h1v5h-1zM661 279h1v15h-1zM675 297h1v3h-1zM677 287h1v12h-1zM687 333h1v2h-1zM689 332h1v14h-1zM703 363h1v11h-1zM705 363h1v7h-1zM707 375h1v9h-1zM709 384h1v10h-1zM713 395h1v10h-1zM717 412h1v4h-1zM719 410h1v5h-1zM721 405h1v8h-1zM733 427h1v6h-1zM735 425h1v10h-1zM737 424h1v4h-1zM739 426h1v3h-1zM743 431h1v2h-1zM753 435h1v5h-1zM761 411h1v16h-1zM771 411h1v6h-1zM773 408h1v5h-1zM785 426h1v5h-1zM787 425h1v4h-1zM791 434h1v1h-1zM795 427h1v8h-1zM801 445h1v7h-1zM803 447h1v4h-1zM805 443h1v9h-1zM813 454h1v17h-1zM815 457h1v7h-1zM819 464h1v3h-1zM831 482h1v6h-1zM839 478h1v11h-1zM841 473h1v19h-1zM845 501h1v3h-1zM851 519h1v9h-1zM853 517h1v7h-1zM855 518h1v6h-1zM867 495h1v12h-1zM869 496h1v9h-1zM873 491h1v4h-1zM883 487h1v15h-1zM885 480h1v12h-1zM887 477h1v10h-1zM889 473h1v7h-1zM893 472h1v11h-1zM895 473h1v6h-1zM897 470h1v7h-1zM899 470h1v7h-1zM901 471h1v8h-1zM903 464h1v7h-1zM905 457h1v9h-1zM909 461h1v8h-1zM911 464h1v7h-1zM915 455h1v14h-1zM917 447h1v6h-1zM939 433h1v8h-1zM941 425h1v2h-1zM943 413h1v14h-1zM945 411h1v7h-1zM947 405h1v9h-1zM955 419h1v10h-1zM977 469h1v5h-1zM987 485h1v13h-1zM995 500h1v4h-1zM997 498h1v7h-1zM999 500h1v6h-1zM1005 513h1v8h-1zM1013 526h1v6h-1zM1015 532h1v2h-1zM1025 553h1v9h-1zM1027 565h1v8h-1zM1031 578h1v5h-1zM1035 578h1v5h-1zM1037 569h1v8h-1zM1039 557h1v13h-1zM1041 545h1v17h-1zM1045 542h1v15h-1zM1047 542h1v3h-1zM1053 535h1v9h-1zM1057 538h1v12h-1zM1059 530h1v9h-1zM1061 524h1v7h-1zM1063 517h1v12h-1zM1065 513h1v14h-1zM1071 520h1v11h-1zM1073 517h1v9h-1zM1081 538h1v9h-1zM1083 527h1v15h-1zM1085 528h1v9h-1zM1087 527h1v6h-1zM1089 516h1v4h-1zM1091 512h1v5h-1zM1107 508h1v3h-1zM1109 502h1v6h-1zM1113 501h1v5h-1zM1115 496h1v6h-1zM1117 491h1v10h-1zM1123 492h1v5h-1zM1127 485h1v12h-1zM1131 481h1v6h-1zM1135 476h1v2h-1zM1137 472h1v7h-1zM1139 474h1v8h-1zM1141 475h1v9h-1zM1161 520h1v16h-1zM1163 519h1v16h-1zM1175 528h1v7h-1zM1185 542h1v8h-1zM1187 535h1v2h-1zM1189 525h1v8h-1zM1191 526h1v5h-1zM1203 534h1v8h-1zM1205 533h1v10h-1zM1209 535h1v7h-1zM1223 539h1v7h-1zM1227 533h1v4h-1zM1229 530h1v4h-1zM1233 524h1v5h-1zM1237 506h1v10h-1zM1239 505h1v10h-1zM1243 498h1v11h-1zM1245 498h1v9h-1zM1253 503h1v5h-1zM1255 499h1v6h-1zM1257 497h1v6h-1zM1259 493h1v9h-1zM1261 489h1v8h-1zM1271 445h1v5h-1zM1275 451h1v6h-1zM1279 448h1v5h-1zM1281 448h1v5h-1zM1285 445h1v10h-1zM1287 442h1v6h-1zM1289 448h1v4h-1zM1305 474h1v10h-1zM1307 459h1v8h-1zM1309 459h1v8h-1zM1321 492h1v3h-1zM1329 491h1v8h-1zM1331 490h1v7h-1zM1335 481h1v9h-1zM1339 469h1v11h-1zM1343 474h1v4h-1zM1357 500h1v2h-1zM1361 500h1v7h-1zM1367 481h1v7h-1zM1375 489h1v17h-1zM1379 480h1v4h-1zM1383 463h1v7h-1zM1385 464h1v4h-1zM1387 466h1v4h-1zM1389 462h1v4h-1zM1393 451h1v12h-1zM1397 459h1v6h-1zM1399 455h1v4h-1zM1401 450h1v8h-1zM1409 457h1v4h-1zM1415 475h1v7h-1zM1423 455h1v3h-1zM1427 444h1v7h-1zM1429 444h1v7h-1zM1435 457h1v8h-1zM1437 465h1v2h-1zM1445 477h1v10h-1zM1447 474h1v9h-1zM1453 497h1v3h-1zM1461 512h1v3h-1zM1463 508h1v4h-1zM1469 517h1v12h-1zM1475 540h1v5h-1zM1483 553h1v8h-1zM1485 553h1v6h-1zM1487 549h1v12h-1zM1489 541h1v12h-1zM1495 524h1v13h-1zM1501 528h1v4h-1zM1503 527h1v6h-1zM1505 528h1v3h-1zM1507 525h1v6h-1zM1509 525h1v8h-1zM1511 525h1v5h-1zM1515 523h1v7h-1zM1517 514h1v12h-1zM1519 518h1v6h-1zM1523 520h1v4h-1zM1525 520h1v6h-1zM1529 514h1v6h-1zM1531 510h1v8h-1zM1533 508h1v5h-1zM1535 502h1v9h-1zM1539 482h1v17h-1zM1541 483h1v5h-1zM1547 459h1v2h-1zM1551 444h1v9h-1zM1555 456h1v7h-1zM1557 439h1v5h-1zM1563 412h1v6h-1zM1569 402h1v5h-1zM1583 359h1v8h-1zM1585 355h1v7h-1zM1591 387h1v1h-1zM1607 432h1v8h-1zM1613 448h1v5h-1zM1619 457h1v8h-1zM1623 445h1v15h-1zM1625 439h1v14h-1zM1629 432h1v9h-1zM1631 429h1v8h-1zM1633 425h1v10h-1zM1643 430h1v11h-1zM1659 408h1v5h-1zM1661 399h1v17h-1zM1663 397h1v9h-1zM1665 393h1v12h-1zM1667 392h1v7h-1zM1669 388h1v9h-1zM1671 394h1v4h-1zM1675 385h1v12h-1zM1677 383h1v7h-1zM1679 380h1v7h-1zM1681 381h1v4h-1zM1 773h1v1h-1z" fill="#fff"/></g><path d="M940 405.3L1646 461M935.6 410.8L1654 467.5" stroke="#111" stroke-width="1.1" fill="none"/><path d="M1 888.5H1801M1 938.5H1801" stroke="#787878" stroke-width="1" stroke-dasharray="6 5" fill="none" shape-rendering="crispEdges"/><path d="M0.0 906.3L3.8 877.3L5.5 879.8L7.6 897.4L9.3 894.9L11.3 902.5L13.9 901.2L17.6 891.1L19.7 903.7L23.9 909.5L27.7 909.5L31.5 915.6L35.3 910.0L37.8 912.0L41.0 908.0L44.1 894.9L45.4 893.7L49.1 908.8L51.7 908.8L54.2 907.0L59.2 906.3L61.7 893.7L64.3 894.9L68.0 892.4L71.8 887.4L73.8 899.5L79.4 905.0L83.2 896.2L86.9 888.6L90.7 884.3L92.7 892.4L97.0 892.4L100.8 886.1L105.8 879.3L108.9 884.8L112.1 887.4L115.4 887.9L118.4 900.5L124.0 887.9L127.3 897.4L131.0 904.5L134.8 917.6L138.1 918.9L140.6 888.6L142.4 891.1L144.9 887.4L146.9 888.1L150.7 899.5L153.2 896.2L156.8 903.7L160.5 906.3L165.0 897.9L168.3 893.7L171.4 899.5L173.9 898.7L175.9 907.0L179.4 902.5L182.7 903.7L189.0 887.9L190.8 902.5L195.3 914.6L200.4 903.7L204.6 898.7L207.9 893.7L213.0 886.1L216.7 877.3L223.0 867.2L231.9 862.2L235.6 877.3L238.2 891.1L244.5 905.0L248.2 903.7L250.8 908.0L257.0 898.7L259.6 902.5L262.0 906.3L265.4 916.3L273.4 894.4L277.2 908.8L285.5 928.4L288.6 923.2L290.3 923.9L293.6 918.0L299.9 900.5L301.9 905.0L310.5 885.3L315.0 882.3L318.8 876.0L326.4 866.7L336.4 860.0L346.5 856.4L351.6 866.0L357.9 862.2L360.4 879.8L363.7 888.6L365.9 898.7L368.4 900.5L372.2 893.7L376.3 905.5L380.5 900.0L383.0 899.5L389.4 886.1L393.6 889.4L399.4 877.3L408.3 866.4L410.8 874.8L415.8 877.3L420.4 892.4L422.9 888.6L427.7 899.5L436.0 881.0L445.3 866.7L447.3 877.3L451.1 869.2L454.9 873.5L458.7 887.4L460.0 886.1L463.8 881.8L465.5 891.1L467.6 895.4L470.0 889.9L472.6 889.4L475.6 883.0L477.6 883.0L481.4 898.7L485.2 909.5L487.2 909.5L491.5 922.1L494.0 929.0L495.3 932.2L497.3 923.2L502.8 932.7L506.6 940.3L512.9 946.6L515.4 947.3L521.2 951.1L525.0 948.4L527.5 948.4L530.6 952.4L533.8 955.4L538.1 956.7L540.6 958.4L542.7 956.2L544.4 957.2L546.4 950.4L548.2 952.9L550.2 954.2L554.5 942.3L557.8 942.8L562.0 946.6L568.4 952.9L575.9 957.4L580.5 958.7L586.0 962.5L591.0 965.0L594.3 965.5L598.1 951.6L600.6 947.8L603.7 936.5L606.2 927.7L608.7 929.7L610.7 927.7L612.5 923.2L614.5 923.2L616.8 915.6L618.8 915.0L623.3 901.2L627.6 891.1L631.4 882.3L634.6 878.5L638.2 889.4L641.0 894.4L644.0 900.7L646.5 911.3L651.5 902.0L654.0 896.2L659.6 885.3L662.0 892.4L663.6 893.7L665.4 901.2L667.2 900.5L669.7 905.5L673.0 902.5L675.5 896.2L678.0 899.5L679.8 901.2L683.0 915.0L685.6 926.4L689.3 933.2L693.0 937.3L695.6 938.3L699.4 943.3L701.4 930.2L703.2 937.3L705.7 938.5L709.5 944.6L711.5 946.1L713.3 944.6L717.0 947.3L719.6 942.0L723.4 944.8L727.6 948.6L729.7 948.4L731.7 944.0L733.4 944.8L736.0 942.0L739.7 944.0L743.0 946.6L745.5 942.3L749.3 946.1L751.8 944.6L753.6 939.0L757.4 920.9L759.9 923.2L762.4 924.4L764.4 921.4L766.2 922.1L768.2 920.1L772.5 907.5L775.0 913.8L777.0 915.6L782.6 930.2L786.4 916.8L790.0 925.2L792.7 923.2L794.7 918.9L799.0 929.0L802.7 934.5L804.8 926.9L809.0 933.2L811.6 935.7L814.8 937.8L816.6 929.7L819.0 935.7L822.9 940.3L824.7 939.8L830.5 944.6L832.5 937.0L836.3 939.8L838.5 928.4L841.0 934.5L843.0 934.7L850.6 949.6L852.6 942.3L854.4 938.5L858.2 942.8L860.7 931.0L864.5 921.9L868.3 921.9L870.8 914.3L873.3 909.5L875.8 913.8L877.8 910.5L881.4 917.6L884.6 906.3L887.7 900.7L889.7 908.3L893.5 900.0L895.5 902.5L897.2 900.5L899.3 902.5L903.5 895.4L906.0 898.2L907.8 897.9L909.8 901.2L912.4 901.2L914.4 896.2L916.9 887.4L919.2 884.3L920.0 886.1L922.0 893.7L923.3 891.1L926.3 908.8L929.6 916.3L932.6 908.8L936.4 897.4L940.2 888.6L943.4 880.3L946.5 883.6L949.7 895.4L952.3 897.9L954.0 897.9L957.3 901.2L960.8 910.5L963.3 908.0L966.6 915.0L970.4 923.9L972.9 926.4L976.7 935.2L981.7 944.8L984.3 946.6L986.3 938.3L988.5 942.3L992.6 944.6L994.8 941.0L996.9 933.2L998.9 933.5L1003.2 940.3L1006.9 942.8L1010.2 948.6L1012.7 939.0L1016.5 944.0L1020.3 943.6L1024.6 950.4L1032.0 956.7L1034.7 945.3L1037.2 936.5L1040.5 926.4L1042.2 927.7L1044.2 918.9L1046.0 920.6L1048.5 914.6L1050.5 918.9L1052.3 913.8L1054.3 919.4L1057.4 915.0L1061.0 906.3L1064.9 900.0L1066.7 908.8L1068.7 902.5L1070.7 906.3L1073.7 908.0L1076.2 911.3L1078.8 917.6L1082.6 917.1L1084.6 908.8L1086.3 907.5L1088.9 901.2L1092.6 905.0L1095.9 910.5L1099.4 907.0L1101.4 908.8L1106.5 898.7L1110.3 891.1L1112.0 894.9L1116.0 888.1L1117.8 892.4L1119.9 901.2L1121.6 897.4L1123.6 899.5L1127.0 892.4L1131.7 888.6L1134.2 884.8L1137.5 881.0L1139.8 892.4L1141.3 891.1L1143.0 894.9L1145.6 907.0L1147.6 910.5L1153.0 927.7L1157.4 939.0L1159.4 930.2L1161.2 937.3L1163.2 923.2L1167.0 922.6L1169.5 926.4L1174.5 932.2L1177.0 932.7L1181.3 940.8L1183.4 934.0L1185.4 930.2L1189.7 915.0L1191.7 912.6L1193.4 917.6L1195.2 915.0L1197.2 924.7L1201.0 921.4L1203.5 928.2L1205.3 920.6L1208.6 918.4L1210.3 923.2L1214.4 919.6L1216.9 926.4L1218.6 925.9L1220.7 927.7L1222.4 923.9L1226.2 908.8L1228.2 915.0L1230.0 910.0L1232.5 908.0L1236.3 898.7L1238.3 902.0L1240.0 893.2L1242.6 901.2L1245.0 894.4L1248.9 889.1L1250.9 897.9L1253.9 902.5L1256.4 898.7L1260.2 894.4L1265.3 883.6L1269.8 874.8L1272.8 874.8L1276.6 888.6L1279.1 884.3L1280.9 884.8L1282.9 887.9L1286.7 880.3L1288.0 889.4L1290.5 900.5L1293.0 903.7L1294.8 902.5L1296.8 908.0L1298.0 906.3L1299.3 913.8L1300.5 908.8L1302.6 920.1L1305.6 912.6L1310.0 913.8L1314.4 924.7L1316.2 921.4L1320.7 930.2L1323.2 932.2L1325.7 938.3L1328.3 926.4L1331.5 921.9L1333.3 923.9L1337.0 908.8L1339.0 907.5L1341.4 913.8L1343.4 910.0L1346.7 916.8L1348.4 915.0L1351.5 923.9L1354.7 920.1L1357.7 926.4L1360.5 923.9L1365.6 908.8L1368.6 918.9L1371.9 925.2L1373.6 924.7L1378.7 907.5L1381.7 899.5L1382.0 898.7L1383.8 896.9L1385.5 902.5L1387.6 896.2L1389.6 905.0L1391.3 898.7L1393.9 901.2L1395.6 898.7L1397.6 905.5L1400.2 898.7L1401.4 897.9L1403.9 902.0L1407.7 902.5L1409.7 907.0L1411.5 904.5L1413.3 916.3L1415.3 919.4L1417.8 919.4L1421.6 906.3L1425.4 893.7L1427.9 903.7L1430.4 900.7L1432.4 902.5L1434.9 913.8L1436.7 915.0L1438.7 918.9L1440.5 919.4L1443.0 926.4L1446.3 918.4L1449.3 926.4L1453.0 933.2L1455.6 934.7L1459.4 938.3L1463.2 937.8L1468.2 945.3L1470.2 935.7L1472.7 942.3L1477.0 947.8L1480.0 950.9L1483.3 944.0L1485.3 942.8L1487.0 943.6L1489.6 932.2L1492.0 922.6L1494.7 923.2L1496.7 919.6L1499.7 919.4L1501.5 921.4L1504.2 919.4L1506.5 912.6L1508.5 921.4L1512.3 918.9L1516.0 912.6L1518.6 907.5L1522.4 911.3L1524.4 908.8L1528.2 908.0L1530.7 900.0L1532.5 897.9L1535.0 887.4L1536.8 883.6L1538.5 893.7L1540.5 882.3L1542.6 881.0L1546.3 874.8L1549.4 870.2L1551.9 870.5L1553.9 878.5L1555.7 889.9L1557.7 879.3L1561.5 874.3L1565.2 870.5L1567.8 870.5L1571.5 878.5L1574.0 874.3L1579.0 869.2L1583.6 864.2L1586.0 877.3L1589.2 889.9L1593.0 903.7L1597.2 916.3L1600.5 921.4L1605.0 928.4L1606.8 925.7L1609.3 928.2L1613.0 933.2L1616.9 936.0L1619.4 938.3L1622.4 925.2L1624.0 921.4L1625.7 918.9L1627.5 922.6L1629.5 915.0L1631.5 909.5L1633.3 914.6L1637.0 915.6L1639.6 916.8L1642.0 915.8L1644.6 919.4L1647.6 925.2L1649.7 923.2L1651.7 915.0L1654.7 907.0L1658.5 896.2L1660.2 894.4L1662.3 886.9L1664.3 891.1L1666.8 889.9L1668.6 884.8L1670.6 897.4L1672.3 895.7L1674.4 895.4L1676.4 888.6L1678.6 894.4L1680.7 888.6L1685.0 880.6L1690.5 872.2" fill="none" stroke="#b54fb8" stroke-width="1.1" stroke-linejoin="round"/><g shape-rendering="crispEdges"><rect x="0" y="1" width="1865" height="1" fill="#e0e3eb"/><rect x="0" y="1" width="1" height="1004" fill="#e0e3eb"/><rect x="0" y="1004" width="1865" height="1" fill="#e0e3eb"/><rect x="101" y="0" width="1" height="1" fill="#e0e3eb"/><rect x="186" y="0" width="1" height="1" fill="#e0e3eb"/><rect x="288" y="0" width="1" height="1" fill="#e0e3eb"/><rect x="395" y="0" width="1" height="1" fill="#e0e3eb"/><rect x="505" y="0" width="1" height="1" fill="#e0e3eb"/><rect x="568" y="0" width="1" height="1" fill="#e0e3eb"/><rect x="606" y="0" width="1" height="1" fill="#e0e3eb"/><rect x="878" y="0" width="1" height="1" fill="#e0e3eb"/><rect x="1012" y="0" width="1" height="1" fill="#e0e3eb"/><rect x="1050" y="0" width="1" height="1" fill="#e0e3eb"/><rect x="1709" y="0" width="1" height="1" fill="#e0e3eb"/><rect x="1748" y="0" width="1" height="1" fill="#e0e3eb"/><rect x="1787" y="0" width="1" height="1" fill="#e0e3eb"/><rect x="1" y="842" width="1864" height="1" fill="#50535e"/><rect x="1" y="977" width="1864" height="1" fill="#50535e"/><rect x="1802" y="2" width="1" height="1002" fill="#50535e"/><rect x="1803" y="5" width="4" height="1" fill="#50535e"/><rect x="1803" y="45" width="4" height="1" fill="#50535e"/><rect x="1803" y="80" width="4" height="1" fill="#50535e"/><rect x="1803" y="119" width="4" height="1" fill="#50535e"/><rect x="1803" y="154" width="4" height="1" fill="#50535e"/><rect x="1803" y="194" width="4" height="1" fill="#50535e"/><rect x="1803" y="239" width="4" height="1" fill="#50535e"/><rect x="1803" y="271" width="4" height="1" fill="#50535e"/><rect x="1803" y="307" width="4" height="1" fill="#50535e"/><rect x="1803" y="376" width="4" height="1" fill="#50535e"/><rect x="1803" y="419" width="4" height="1" fill="#50535e"/><rect x="1803" y="449" width="4" height="1" fill="#50535e"/><rect x="1803" y="484" width="4" height="1" fill="#50535e"/><rect x="1803" y="524" width="4" height="1" fill="#50535e"/><rect x="1803" y="556" width="4" height="1" fill="#50535e"/><rect x="1803" y="593" width="4" height="1" fill="#50535e"/><rect x="1803" y="629" width="4" height="1" fill="#50535e"/><rect x="1803" y="660" width="4" height="1" fill="#50535e"/><rect x="1803" y="695" width="4" height="1" fill="#50535e"/><rect x="1803" y="728" width="4" height="1" fill="#50535e"/><rect x="1803" y="758" width="4" height="1" fill="#50535e"/><rect x="1803" y="792" width="4" height="1" fill="#50535e"/><rect x="1803" y="824" width="4" height="1" fill="#50535e"/><rect x="1803" y="851" width="4" height="1" fill="#50535e"/><rect x="1803" y="882" width="4" height="1" fill="#50535e"/><rect x="1803" y="914" width="4" height="1" fill="#50535e"/><rect x="1803" y="945" width="4" height="1" fill="#50535e"/><rect x="1803" y="976" width="4" height="1" fill="#50535e"/><rect x="1802" y="327" width="60" height="18" fill="#fff"/><rect x="1802" y="336" width="4" height="1" fill="#000"/><rect x="16" y="978" width="1" height="3" fill="#50535e"/><rect x="99" y="978" width="1" height="3" fill="#50535e"/><rect x="190" y="978" width="1" height="3" fill="#50535e"/><rect x="304" y="978" width="1" height="3" fill="#50535e"/><rect x="385" y="978" width="1" height="3" fill="#50535e"/><rect x="502" y="978" width="1" height="3" fill="#50535e"/><rect x="583" y="978" width="1" height="3" fill="#50535e"/><rect x="670" y="978" width="1" height="3" fill="#50535e"/><rect x="780" y="978" width="1" height="3" fill="#50535e"/><rect x="859" y="978" width="1" height="3" fill="#50535e"/><rect x="955" y="978" width="1" height="3" fill="#50535e"/><rect x="1036" y="978" width="1" height="3" fill="#50535e"/><rect x="1120" y="978" width="1" height="3" fill="#50535e"/><rect x="1204" y="978" width="1" height="3" fill="#50535e"/><rect x="1317" y="978" width="1" height="3" fill="#50535e"/><rect x="1414" y="978" width="1" height="3" fill="#50535e"/><rect x="1558" y="978" width="1" height="3" fill="#50535e"/><rect x="1670" y="978" width="1" height="3" fill="#50535e"/></g><g font-family="Liberation Sans, sans-serif"><text x="1811.5" y="9.0" font-size="11.5" fill="#50535e" stroke="#50535e" stroke-width="0.25" textLength="29.4" lengthAdjust="spacingAndGlyphs">16000</text><text x="1811.5" y="49.0" font-size="11.5" fill="#50535e" stroke="#50535e" stroke-width="0.25" textLength="29.4" lengthAdjust="spacingAndGlyphs">14000</text><text x="1811.5" y="83.8" font-size="11.5" fill="#50535e" stroke="#50535e" stroke-width="0.25" textLength="29.4" lengthAdjust="spacingAndGlyphs">12500</text><text x="1811.5" y="122.7" font-size="11.5" fill="#50535e" stroke="#50535e" stroke-width="0.25" textLength="29.4" lengthAdjust="spacingAndGlyphs">11000</text><text x="1811.5" y="157.6" font-size="11.5" fill="#50535e" stroke="#50535e" stroke-width="0.25" textLength="23.5" lengthAdjust="spacingAndGlyphs">9800</text><text x="1811.5" y="197.5" font-size="11.5" fill="#50535e" stroke="#50535e" stroke-width="0.25" textLength="23.5" lengthAdjust="spacingAndGlyphs">8600</text><text x="1811.5" y="242.8" font-size="11.5" fill="#50535e" stroke="#50535e" stroke-width="0.25" textLength="23.5" lengthAdjust="spacingAndGlyphs">7400</text><text x="1811.5" y="275.3" font-size="11.5" fill="#50535e" stroke="#50535e" stroke-width="0.25" textLength="23.5" lengthAdjust="spacingAndGlyphs">6650</text><text x="1811.5" y="311.3" font-size="11.5" fill="#50535e" stroke="#50535e" stroke-width="0.25" textLength="23.5" lengthAdjust="spacingAndGlyphs">5900</text><text x="1811.5" y="380.5" font-size="11.5" fill="#50535e" stroke="#50535e" stroke-width="0.25" textLength="23.5" lengthAdjust="spacingAndGlyphs">4700</text><text x="1811.5" y="422.6" font-size="11.5" fill="#50535e" stroke="#50535e" stroke-width="0.25" textLength="23.5" lengthAdjust="spacingAndGlyphs">4100</text><text x="1811.5" y="453.4" font-size="11.5" fill="#50535e" stroke="#50535e" stroke-width="0.25" textLength="23.5" lengthAdjust="spacingAndGlyphs">3700</text><text x="1811.5" y="487.9" font-size="11.5" fill="#50535e" stroke="#50535e" stroke-width="0.25" textLength="23.5" lengthAdjust="spacingAndGlyphs">3300</text><text x="1811.5" y="527.5" font-size="11.5" fill="#50535e" stroke="#50535e" stroke-width="0.25" textLength="23.5" lengthAdjust="spacingAndGlyphs">2900</text><text x="1811.5" y="560.0" font-size="11.5" fill="#50535e" stroke="#50535e" stroke-width="0.25" textLength="23.5" lengthAdjust="spacingAndGlyphs">2600</text><text x="1811.5" y="596.9" font-size="11.5" fill="#50535e" stroke="#50535e" stroke-width="0.25" textLength="23.5" lengthAdjust="spacingAndGlyphs">2300</text><text x="1811.5" y="632.7" font-size="11.5" fill="#50535e" stroke="#50535e" stroke-width="0.25" textLength="23.5" lengthAdjust="spacingAndGlyphs">2050</text><text x="1811.5" y="663.8" font-size="11.5" fill="#50535e" stroke="#50535e" stroke-width="0.25" textLength="23.5" lengthAdjust="spacingAndGlyphs">1850</text><text x="1811.5" y="698.8" font-size="11.5" fill="#50535e" stroke="#50535e" stroke-width="0.25" textLength="23.5" lengthAdjust="spacingAndGlyphs">1650</text><text x="1811.5" y="732.3" font-size="11.5" fill="#50535e" stroke="#50535e" stroke-width="0.25" textLength="23.5" lengthAdjust="spacingAndGlyphs">1475</text><text x="1811.5" y="762.4" font-size="11.5" fill="#50535e" stroke="#50535e" stroke-width="0.25" textLength="23.5" lengthAdjust="spacingAndGlyphs">1335</text><text x="1811.5" y="796.5" font-size="11.5" fill="#50535e" stroke="#50535e" stroke-width="0.25" textLength="23.5" lengthAdjust="spacingAndGlyphs">1195</text><text x="1811.5" y="828.0" font-size="11.5" fill="#50535e" stroke="#50535e" stroke-width="0.25" textLength="23.5" lengthAdjust="spacingAndGlyphs">1075</text><text x="1811.5" y="854.7" font-size="11.5" fill="#50535e" stroke="#50535e" stroke-width="0.25" textLength="44.0" lengthAdjust="spacingAndGlyphs">100.0000</text><text x="1811.5" y="886.2" font-size="11.5" fill="#50535e" stroke="#50535e" stroke-width="0.25" textLength="38.1" lengthAdjust="spacingAndGlyphs">75.0000</text><text x="1811.5" y="917.6" font-size="11.5" fill="#50535e" stroke="#50535e" stroke-width="0.25" textLength="38.1" lengthAdjust="spacingAndGlyphs">50.0000</text><text x="1811.5" y="949.4" font-size="11.5" fill="#50535e" stroke="#50535e" stroke-width="0.25" textLength="38.1" lengthAdjust="spacingAndGlyphs">25.0000</text><text x="1811.5" y="339.7" font-size="11.5" fill="#000" stroke="#000" stroke-width="0.25" textLength="23.5" lengthAdjust="spacingAndGlyphs">5365</text><text x="5.7" y="997.0" font-size="11.5" fill="#50535e" stroke="#50535e" stroke-width="0.25" textLength="21.7" lengthAdjust="spacingAndGlyphs">May</text><text x="89.7" y="997.0" font-size="11.5" fill="#50535e" stroke="#50535e" stroke-width="0.25" textLength="19.7" lengthAdjust="spacingAndGlyphs">Sep</text><text x="176.3" y="997.0" font-size="12" fill="#50535e" stroke="#50535e" stroke-width="0.25" font-weight="bold" textLength="27.3" lengthAdjust="spacingAndGlyphs">2020</text><text x="295.6" y="997.0" font-size="11.5" fill="#50535e" stroke="#50535e" stroke-width="0.25" textLength="18.3" lengthAdjust="spacingAndGlyphs">Apr</text><text x="376.1" y="997.0" font-size="11.5" fill="#50535e" stroke="#50535e" stroke-width="0.25" textLength="18.9" lengthAdjust="spacingAndGlyphs">Jun</text><text x="492.6" y="997.0" font-size="11.5" fill="#50535e" stroke="#50535e" stroke-width="0.25" textLength="19.7" lengthAdjust="spacingAndGlyphs">Sep</text><text x="573.6" y="997.0" font-size="11.5" fill="#50535e" stroke="#50535e" stroke-width="0.25" textLength="20.5" lengthAdjust="spacingAndGlyphs">Nov</text><text x="657.4" y="997.0" font-size="12" fill="#50535e" stroke="#50535e" stroke-width="0.25" font-weight="bold" textLength="27.3" lengthAdjust="spacingAndGlyphs">2021</text><text x="771.0" y="997.0" font-size="11.5" fill="#50535e" stroke="#50535e" stroke-width="0.25" textLength="18.3" lengthAdjust="spacingAndGlyphs">Apr</text><text x="850.4" y="997.0" font-size="11.5" fill="#50535e" stroke="#50535e" stroke-width="0.25" textLength="18.9" lengthAdjust="spacingAndGlyphs">Jun</text><text x="945.4" y="997.0" font-size="11.5" fill="#50535e" stroke="#50535e" stroke-width="0.25" textLength="19.7" lengthAdjust="spacingAndGlyphs">Sep</text><text x="1025.8" y="997.0" font-size="11.5" fill="#50535e" stroke="#50535e" stroke-width="0.25" textLength="20.5" lengthAdjust="spacingAndGlyphs">Nov</text><text x="1107.1" y="997.0" font-size="12" fill="#50535e" stroke="#50535e" stroke-width="0.25" font-weight="bold" textLength="27.3" lengthAdjust="spacingAndGlyphs">2022</text><text x="1194.5" y="997.0" font-size="11.5" fill="#50535e" stroke="#50535e" stroke-width="0.25" textLength="20.0" lengthAdjust="spacingAndGlyphs">Mar</text><text x="1308.5" y="997.0" font-size="11.5" fill="#50535e" stroke="#50535e" stroke-width="0.25" textLength="18.9" lengthAdjust="spacingAndGlyphs">Jun</text><text x="1405.0" y="997.0" font-size="11.5" fill="#50535e" stroke="#50535e" stroke-width="0.25" textLength="19.7" lengthAdjust="spacingAndGlyphs">Sep</text><text x="1545.2" y="997.0" font-size="12" fill="#50535e" stroke="#50535e" stroke-width="0.25" font-weight="bold" textLength="27.3" lengthAdjust="spacingAndGlyphs">2023</text><text x="1660.9" y="997.0" font-size="11.5" fill="#50535e" stroke="#50535e" stroke-width="0.25" textLength="18.3" lengthAdjust="spacingAndGlyphs">Apr</text><text x="240.8" y="21.9" font-size="12" fill="#6a6d78" stroke="#6a6d78" stroke-width="0.25" textLength="8.3" lengthAdjust="spacingAndGlyphs">O</text><text x="285.7" y="21.9" font-size="12" fill="#6a6d78" stroke="#6a6d78" stroke-width="0.25" textLength="7.5" lengthAdjust="spacingAndGlyphs">H</text><text x="329.7" y="21.9" font-size="12" fill="#6a6d78" stroke="#6a6d78" stroke-width="0.25" textLength="5.9" lengthAdjust="spacingAndGlyphs">L</text><text x="371.0" y="21.9" font-size="12" fill="#6a6d78" stroke="#6a6d78" stroke-width="0.25" textLength="7.8" lengthAdjust="spacingAndGlyphs">C</text><text x="250.0" y="21.9" font-size="12" fill="#131722" stroke="#131722" stroke-width="0.25" textLength="28.0" lengthAdjust="spacingAndGlyphs">5365</text><text x="294.5" y="21.9" font-size="12" fill="#131722" stroke="#131722" stroke-width="0.25" textLength="27.6" lengthAdjust="spacingAndGlyphs">5365</text><text x="336.4" y="21.9" font-size="12" fill="#131722" stroke="#131722" stroke-width="0.25" textLength="27.5" lengthAdjust="spacingAndGlyphs">5365</text><text x="379.6" y="21.9" font-size="12" fill="#131722" stroke="#131722" stroke-width="0.25" textLength="27.5" lengthAdjust="spacingAndGlyphs">5365</text><text x="415.3" y="21.9" font-size="12" fill="#131722" stroke="#131722" stroke-width="0.25" textLength="26.7" lengthAdjust="spacingAndGlyphs">+156</text><text x="446.0" y="21.9" font-size="12" fill="#131722" stroke="#131722" stroke-width="0.25" textLength="54.1" lengthAdjust="spacingAndGlyphs">(+2.99%)</text><text x="37.4" y="46.9" font-size="12" fill="#131722" stroke="#131722" stroke-width="0.25" textLength="41.5" lengthAdjust="spacingAndGlyphs">Volume</text><text x="84.4" y="46.9" font-size="12" fill="#50535e" stroke="#50535e" stroke-width="0.25" textLength="13.3" lengthAdjust="spacingAndGlyphs">20</text><text x="107.2" y="46.9" font-size="12" fill="#53b987" stroke="#53b987" stroke-width="0.25" textLength="42.9" lengthAdjust="spacingAndGlyphs">6.845M</text><text x="156.6" y="46.9" font-size="12" fill="#2196f3" stroke="#2196f3" stroke-width="0.25" textLength="49.5" lengthAdjust="spacingAndGlyphs">21.261M</text><text x="37.3" y="862.2" font-size="12" fill="#131722" stroke="#131722" stroke-width="0.25" textLength="19.4" lengthAdjust="spacingAndGlyphs">RSI</text><text x="62.5" y="862.2" font-size="12" fill="#6a6d78" stroke="#6a6d78" stroke-width="0.25" textLength="12.6" lengthAdjust="spacingAndGlyphs">14</text><text x="84.4" y="862.2" font-size="12" fill="#800080" stroke="#800080" stroke-width="0.25" textLength="47.2" lengthAdjust="spacingAndGlyphs">82.2764</text><text x="1723.0" y="23.0" font-size="12" fill="#9e9e9e" stroke="#9e9e9e" stroke-width="0.25" textLength="72.5" lengthAdjust="spacingAndGlyphs">Market Closed</text><text x="151.6" y="24.1" font-size="15" fill="#131722" stroke="#131722" stroke-width="0.25" textLength="10.0" lengthAdjust="spacingAndGlyphs">D</text></g><svg x="1808" y="960" width="56" height="17" overflow="hidden"><g font-family="Liberation Sans, sans-serif"><text x="3.5" y="20.6" font-size="11.5" fill="#50535e" stroke="#50535e" stroke-width="0.25" textLength="32.2" lengthAdjust="spacingAndGlyphs">0.0000</text></g></svg><text x="383.1" y="522.5" font-family="DejaVu Sans, sans-serif" font-weight="bold" font-size="23.7" fill="#6aa84f" textLength="326.7" lengthAdjust="spacingAndGlyphs">AMOOZESH-BOORS.COM</text><circle cx="1833.5" cy="991.5" r="5.3" fill="none" stroke="#131722" stroke-width="1.2"/><path d="M1838.70 991.50L1841.10 991.50M1837.18 995.18L1838.87 996.87M1833.50 996.70L1833.50 999.10M1829.82 995.18L1828.13 996.87M1828.30 991.50L1825.90 991.50M1829.82 987.82L1828.13 986.13M1833.50 986.30L1833.50 983.90M1837.18 987.82L1838.87 986.13" stroke="#131722" stroke-width="1.2" fill="none"/><circle cx="25.5" cy="946.9" r="16.5" fill="#fff" stroke="#e6e6e6" stroke-width="1"/><g transform="translate(14.4,939.8)"><g fill="#37a6ef"><circle cx="4.15" cy="9.05" r="4.15"/><circle cx="9.5" cy="5" r="5"/><circle cx="17.7" cy="8.4" r="4.8"/><rect x="4.15" y="8" width="13.55" height="5.2"/></g><path d="M0.6 10.9L8.34 4.7 13.9 10.27 19.3 4.3" fill="none" stroke="#fff" stroke-width="1.4" stroke-linejoin="round"/><circle cx="8.34" cy="4.7" r="1.05" fill="#fff"/><circle cx="13.9" cy="10.27" r="1.05" fill="#fff"/></g><circle cx="1716" cy="19" r="3" fill="#9e9e9e"/></svg>
<div class="t" id="t1" dir="rtl" style="left:10.5px;top:10.5px;font-size:14.35px;font-family:'DejaVu Sans',sans-serif;-webkit-text-stroke:0.5px #131722;">س. آرمان گستر پاریز</div>
<div class="t" id="t2" dir="rtl" style="left:175.5px;top:10.5px;font-size:14.2px;font-family:'DejaVu Sans',sans-serif;-webkit-text-stroke:0.5px #131722;">فرابورس</div>
<div class="t" style="left:145.5px;top:15px;width:2px;height:2px;background:#b2b5be;border-radius:1px"></div>
<div class="t" style="left:168px;top:15px;width:2px;height:2px;background:#b2b5be;border-radius:1px"></div>
<div class="box" style="left:9px;top:34px"><svg width="10" height="6" viewBox="0 0 10 6"><path d="M0.8 1L4.7 4.5 8.6 1" fill="none" stroke="#131722" stroke-width="1.3"/></svg></div>
<div class="box" style="left:9px;top:849px"><svg width="10" height="6" viewBox="0 0 10 6"><path d="M0.8 1L4.7 4.5 8.6 1" fill="none" stroke="#131722" stroke-width="1.3"/></svg></div>
<div class="t" id="wm1" dir="rtl" style="left:383px;top:480.5px;font-size:19px;color:#6aa84f;-webkit-text-stroke:0.4px #6aa84f;font-family:'DejaVu Sans',sans-serif;">انجمن خبرگـــــان ســـرمایه گذاری ایران</div>
</body></html>
